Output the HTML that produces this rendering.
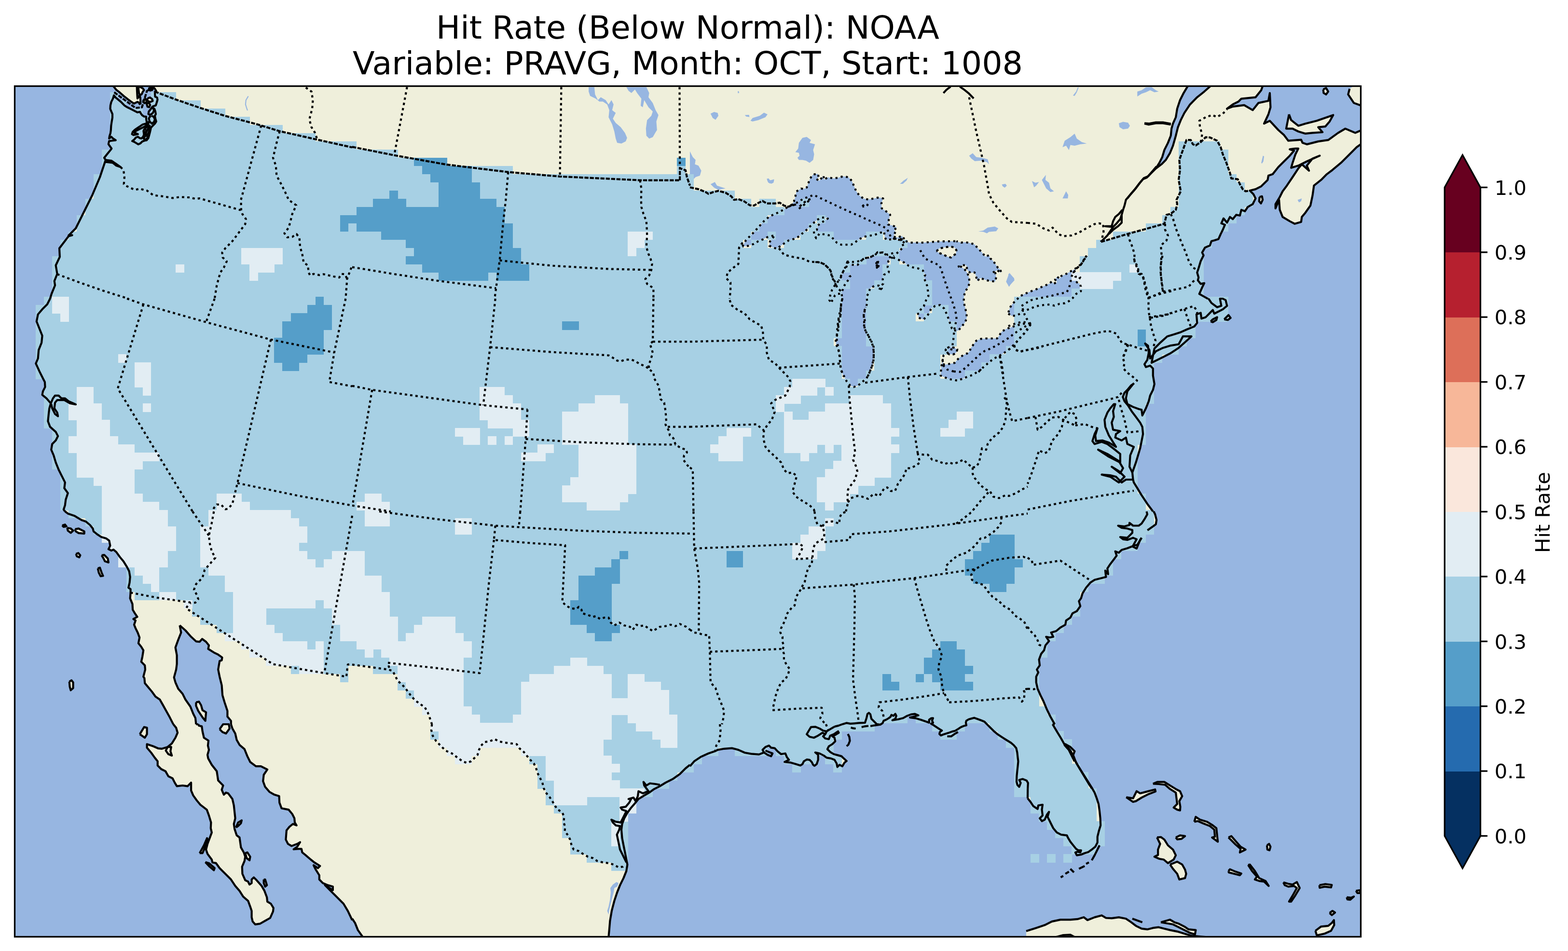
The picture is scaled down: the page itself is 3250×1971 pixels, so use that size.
<!DOCTYPE html>
<html lang="en">
<head>
<meta charset="utf-8">
<title>Hit Rate (Below Normal): NOAA</title>
<style>
html,body{margin:0;padding:0;background:#fff;}
body{width:3250px;height:1971px;overflow:hidden;}
svg{display:block;}
text{font-family:'DejaVu Sans', 'Liberation Sans', sans-serif;fill:#000;}
.coast{fill:none;stroke:#000;stroke-width:4.2;stroke-linejoin:round;stroke-linecap:butt;}
.bord{fill:none;stroke:#000;stroke-width:4.2;stroke-linejoin:round;stroke-dasharray:8.4 2.65;}
.st{fill:none;stroke:#000;stroke-width:4.2;stroke-linejoin:round;stroke-dasharray:4.9 6.15;}
</style>
</head>
<body>
<svg width="3250" height="1971" viewBox="0 0 3250 1971">
<rect width="3250" height="1971" fill="#fff"/>
<g font-size="66.67" text-anchor="middle">
<text x="1425.5" y="80.3">Hit Rate (Below Normal): NOAA</text>
<text x="1425.5" y="154">Variable: PRAVG, Month: OCT, Start: 1008</text>
</g>
<defs><clipPath id="axclip"><rect x="30.5" y="178.5" width="2790" height="1763"/></clipPath></defs>
<g clip-path="url(#axclip)">
<rect x="30.5" y="178.5" width="2790" height="1763" fill="#97b6e1"/>
<g fill="#efefdb" stroke="none">
<path d="M317.4 177.7L318.3 181.3L321 184L323.8 188.6L323.8 188.6L321 193.1L321.5 200.3L325.6 202.1L326.5 206.6L324.7 212.9L322.9 218.4L317.4 220.2L315.6 222.9L320.1 225.6L322 231L322.9 236.4L321 240L322 245.5L323.8 251.8L321 256.3L316.5 260.8L312.9 264.4L312 268.9L310.7 274.4L309.3 279.8L307.5 286.1L303.9 290.6L299.4 291.5L294.9 293.3L291.2 297L286.7 299.2L283.1 297L278.6 294.2L274.1 292.4L278.6 288.8L281.3 285.2L285.8 283.4L289.4 286.1L293 287L296.7 283.4L298.5 278.9L297.6 272.6L298.5 268.9L302.1 265.3L305.7 261.7L307.5 256.3L308.4 252.7L306.6 253.6L302.1 256.3L295.8 258.1L290.3 261.7L284.9 265.3L279.5 268.9L275 273.5L273.6 278L276.8 279.8L281.3 278.9L285.8 278L281.3 276.2L278.6 275.3L281.3 271.7L286.7 268.9L292.1 266.2L297.6 263.5L302.1 260.8L304.8 257.2L303.9 251.8L303 246.4L303 241.8L298.5 241.4L294.9 239.1L292.1 235.5L290.3 231.9L284.9 232.8L279.5 230.1L274.1 227.4L268.7 224.7L263.2 222L257.8 218.4L254.2 214.7L250.6 211.1L245.2 206.6L239.7 202.1L236.1 197.6L234.3 203.9L230.7 211.1L228.9 218.4L228.5 225.6L230.7 231L233 236.4L233 243.7L231.6 251.8L230.3 260.8L229.8 269.9L228.9 276.2L227.1 281.6L226.2 287L230.7 283.4L234.3 287L239.7 290.6L232.5 291.5L226.2 292.4L224.8 298.8L228 303.3L231.2 307.8L229.8 310L221.9 319.7L216 327.1L219 331.5L217.5 336L207.1 367L190.9 405.3L174.7 437.8L157 473.2L142.2 488L149.6 487.4L142.2 489.5L123 514.6L123.9 532.3L115.6 550L118.6 567.7L112.7 582.5L114.1 591.3L106.8 609.1L103.8 619.1L103.8 619L97.9 630.8L87.6 641.1L78.7 651.5L75.8 666.2L81.7 681L87.6 695.8L86.1 710.5L80.2 725.3L78.7 743L74.3 753.3L81.7 769.6L89 784.3L92.9 791.7L93.5 802.1L89 810.9L87.6 818.3L96.4 825.7L105.3 836L105.3 836L102.3 846.3L100.9 858.1L99.4 872.9L103.8 884.7L115.6 895.1L120.1 903.9L115.6 912.8L108.2 920.2L106.2 932L111.2 943.8L115.6 958.5L121.5 973.3L127.4 985.1L134.8 999.9L133.3 1011.7L140.7 1022L136.3 1035.3L134.8 1047.1L131.9 1056L134.8 1060.1L134.8 1060L140.7 1064.4L154 1068.9L168.8 1077.7L177.6 1080.7L186.5 1088L192.4 1095.4L193.9 1101.3L201.2 1107.2L210.1 1113.1L220.4 1116.1L226.3 1120.5L228.4 1130.9L224.9 1138.2L230.8 1141.2L235.2 1139.1L241.1 1144.1L248.5 1154.5L255.9 1163.3L263.2 1175.1L267.7 1184L269.7 1195.8L268.6 1207.6L266.2 1218L270.6 1220.9L270.6 1228.3L269.7 1240.1L274.5 1251.9L275.1 1263.7L279.5 1271.1L284.5 1278.5L276.5 1282.9L281 1285.9L278 1294.7L281 1302.1L285.4 1311L289.2 1321.3L286.9 1333.1L292.8 1340.5L297.2 1347.9L295.1 1361.2L292.8 1371.5L300.2 1378.9L301 1387.7L297.2 1402.5L299.3 1405.4L300.2 1415.8L307.5 1424.6L314.9 1433.5L322.3 1443.8L331.2 1449.7L337.1 1460.1L344.4 1473.3L351.8 1486.6L359.2 1501.1L359.2 1501L365.1 1508.4L368.1 1518.7L363.6 1529L356.2 1540.9L347.4 1548.2L335.6 1551.8L328.2 1551.2L317.9 1546.8L304.6 1542.3L304.6 1549.7L313.4 1560L320.8 1570.4L326.7 1577.8L326.7 1586.6L334.1 1594L343 1598.4L348.9 1608.8L357.7 1613.2L362.2 1622.1L366.6 1629.4L378.4 1628L388.7 1629.4L396.1 1622.1L396.1 1638.3L400.5 1648.6L407.9 1659L415.3 1667.8L428.6 1678.1L433 1690L437.4 1704.7L436.8 1716.5L438.9 1725.4L434.5 1737.2L430.1 1749L427.1 1760.8L430.1 1769.7L438.9 1781.5L440.4 1787.4L447.8 1788.9L455.2 1799.2L467 1811L478.8 1822.8L487.6 1836.1L496.5 1846.4L503.9 1858.2L514.2 1867.1L518.6 1878.9L521.6 1887.8L521.6 1901.1L523.7 1909.9L529 1915.8L539.3 1914.3L549.6 1908.4L560 1902.5L565.9 1889.2L566.8 1881.9L561.4 1873L554.1 1868.6L553.2 1859.7L548.2 1846.4L542.3 1836.1L531.9 1824.3L526 1818.4L521.6 1822.8L521.6 1830.2L517.2 1833.2L514.2 1827.2L508.3 1824.3L502.4 1811L501.8 1796.2L506.8 1784.4L508.3 1775.6L505.3 1766.7L499.4 1756.4L496.5 1735.7L490.6 1731.3L486.2 1718L484.7 1707.7L487.6 1695.9L484.7 1669.3L481.7 1656L472.9 1644.2L468.4 1642.7L464 1647.1L459.6 1636.8L462.5 1628L452.2 1617.6L449.3 1598.4L438.9 1585.1L431.5 1571.9L430.1 1564.5L433 1554.1L430.9 1545.3L432.1 1535L422.7 1529L419.7 1515.8L418.2 1505.4L412.3 1504L410.9 1501L406.4 1501.1L405 1488.1L400.5 1479.3L394.6 1464.5L384.3 1449.7L378.4 1437.9L369.5 1427.6L363.6 1414.3L360.7 1404L365.1 1387.7L366.6 1375.9L366.6 1358.2L363.6 1342L369.5 1325.7L375.4 1311L372.5 1296.2L372.5 1296.2L384.3 1306.5L396.1 1319.8L406.4 1329.3L413.8 1330.2L419.1 1324.2L427.1 1330.2L433 1337.5L431.5 1344.9L443.3 1352.3L452.2 1356.7L460.5 1362.6L459.6 1368.5L455.2 1370L452.2 1387.7L455.2 1402.5L459.6 1420.2L461.1 1440.9L465.5 1455.6L471.4 1473.3L471.4 1485.2L478.8 1494L478.8 1501.1L478.8 1501L481.7 1509.9L487.6 1520.2L490.6 1533.5L496.5 1543.8L506.8 1552.7L512.7 1567.4L518.6 1579.2L530.4 1588.1L540.8 1588.1L554.1 1594.9L546.7 1605.8L545.2 1619.1L549.6 1630.9L558.5 1641.2L568.8 1647.1L578.6 1650.1L579.2 1663.4L583.6 1675.2L598.3 1678.1L605.7 1687L610.2 1695.9L611 1704.7L614.6 1710.6L607.2 1707.7L599.8 1713.6L593.9 1721L592.4 1740.1L596.9 1749L604.3 1753.4L616.1 1749L622 1745.5L616.1 1754.9L608.7 1760.2L617.5 1759.3L624.9 1759.3L626.4 1766.7L633.8 1772.6L644.1 1781.5L651.5 1787.4L663.3 1794.8L658.9 1799.2L650 1793.3L654.4 1802.2L661.8 1814L661.8 1822.8L669.2 1830.2L679.5 1834.6L689.9 1837.6L689.9 1845L673.6 1834.6L684 1845L697.3 1858.2L712 1873L720.9 1887.8L730 1907L730 1904L735.9 1912.9L741.8 1927.6L752.1 1942.1L752.1 1961.5L1261.4 1961.5L1261.4 1942.1L1262.9 1926.2L1264.4 1908.4L1267.9 1887.8L1273.3 1867.1L1279.2 1849.4L1285.1 1834.6L1292.4 1819.9L1298.3 1805.1L1300.4 1791.8L1298.3 1781.5L1295.4 1766.7L1292.4 1752L1289.5 1737.2L1288 1719.5L1289.5 1707.7L1293.9 1695.9L1299.8 1685.5L1307.2 1675.2L1316.1 1664.9L1323.4 1656L1335.3 1648.6L1345.6 1642.7L1355.9 1635.3L1367.7 1629.4L1379.5 1622.1L1394.3 1614.7L1409.1 1604.3L1420.9 1592.5L1430 1585.1L1430 1588.1L1438.9 1577.8L1452.1 1568.9L1468.4 1561.5L1481.7 1557.1L1487.6 1554.1L1500.9 1551.8L1517.1 1550.6L1530.4 1554.1L1543.7 1560L1557 1562.4L1573.2 1563.6L1583.5 1559.5L1580.6 1554.1L1586.5 1548.2L1593.9 1545.3L1598.3 1549.7L1605.7 1550.6L1611.6 1557.1L1619 1563L1627.8 1561.5L1630.8 1568.9L1635.2 1574.8L1626.3 1579.2L1639.6 1580.7L1650 1583.7L1658.8 1586.6L1663.2 1583.7L1666.2 1577.8L1672.1 1574.2L1678 1574.8L1682.4 1579.2L1685.4 1585.1L1688.3 1587.2L1692.8 1583.7L1695.7 1574.8L1695.7 1564.5L1689.8 1559.5L1698.7 1561.5L1707.5 1566L1713.4 1570.4L1722.3 1571.9L1729.7 1574.8L1734.1 1582.2L1735.6 1589.6L1740 1585.1L1745.9 1588.1L1750.3 1580.7L1754.8 1577.2L1748.9 1571.9L1744.4 1567.4L1737.1 1565.4L1728.2 1563L1720.8 1558.6L1714.9 1552.7L1717.9 1546.8L1725.2 1542.3L1731.2 1536.4L1729.7 1529L1725.2 1526.1L1731.2 1523.1L1738.5 1518.7L1737.1 1515.8L1728.2 1521.7L1720.8 1524.6L1717.9 1532L1710.5 1530.5L1706.1 1526.1L1710.5 1521.7L1710.5 1521.7L1713.4 1515.8L1720.8 1511.3L1728.2 1506.9L1730 1505.9L1738.1 1503.9L1746.2 1500.9L1754.4 1498.4L1762.5 1499.9L1770.6 1499.3L1780.7 1498.4L1792.9 1497.8L1795.9 1488.7L1798 1479.6L1801 1477.5L1804.1 1480.6L1806.1 1489.7L1810.2 1493.8L1814.2 1497.8L1817.3 1500.9L1824.4 1501.9L1829.4 1498.8L1831.5 1493.8L1836.5 1491.7L1841.6 1488.7L1845.7 1485.7L1847.7 1481.6L1851.8 1483.6L1855.8 1479.6L1857.8 1483.6L1855.8 1489.7L1849.7 1492.8L1861.9 1490.7L1872 1488.3L1880.2 1483.6L1888.3 1480.6L1896.4 1479.6L1903.5 1482.6L1892.3 1485.7L1886.2 1487.1L1898.4 1488.7L1908.6 1491.7L1918.7 1495.2L1925.8 1497.8L1925.8 1491.7L1929.9 1488.7L1933.9 1488.3L1931.9 1493.8L1933.9 1497.8L1929.9 1499.9L1935 1502.9L1941 1507L1947.1 1511L1952.2 1514.1L1948.1 1517.1L1947.1 1521.2L1950.2 1524.2L1955.2 1522.2L1965.4 1519.1L1973.5 1516.1L1979.6 1514.7L1985.7 1511L1991.8 1507L1997.9 1504.5L2002.9 1503.3L2001.9 1497.8L2002.9 1493.8L2008 1490.7L2014.1 1489.1L2019.2 1487.7L2026.3 1490.3L2034.4 1493.2L2040.5 1495.8L2045.5 1500.9L2052.6 1508L2059.7 1515.1L2066.9 1521.2L2072.9 1525.2L2079 1529.3L2087.1 1534.4L2095.3 1539.4L2101.3 1544.5L2106.4 1550.6L2108.4 1559.7L2109.5 1569.9L2110.5 1578L2109.5 1588.1L2108.4 1598.3L2107.4 1608.4L2107 1620L2108.7 1626.7L2112.5 1630.7L2115.6 1622.6L2112.5 1616.5L2119.6 1614.5L2127.7 1617.6L2130.8 1622.6L2130.2 1634.8L2130 1654.5L2135.9 1661.9L2141.8 1670.8L2150.7 1676.7L2152.1 1669.3L2161 1667.8L2159.5 1678.1L2161 1690L2155.1 1695.9L2159.5 1701.8L2165.4 1698.8L2169.9 1688.5L2174.3 1682.6L2171.3 1692.9L2174.3 1698.8L2178.7 1707.7L2183.1 1716.5L2190.5 1725.4L2199.4 1729.8L2211.2 1731.3L2214.1 1737.2L2218.6 1744.6L2224.5 1752L2230.4 1759.3L2234.8 1762.3L2240.7 1762.3L2239.2 1766.7L2233.3 1765.2L2228.9 1766.7L2231.9 1772.6L2240.7 1771.2L2248.1 1768.2L2255.5 1766.1L2262.9 1760.8L2270.2 1754.9L2274.7 1746.1L2274.7 1734.2L2277.6 1722.4L2281.2 1710.6L2280.6 1695.9L2279.1 1681.1L2277 1666.3L2273.2 1654.5L2268.8 1642.7L2262.9 1632.4L2255.5 1620.6L2248.1 1608.8L2240.7 1597L2233.3 1585.1L2226 1571.9L2224.5 1564.5L2227.4 1557.1L2218.6 1548.2L2208.2 1542.3L2214.1 1552.7L2206.8 1543.8L2199.4 1530.5L2190.5 1515.8L2181.7 1501L2186.1 1501.1L2177.2 1485.2L2169.9 1470.4L2162.5 1452.7L2156.6 1440.9L2150.7 1427.6L2147.7 1414.3L2147.7 1402.5L2152.1 1393.6L2149.2 1387.7L2155.1 1378.9L2153.6 1367.1L2158 1355.2L2164 1347.9L2166.9 1337.5L2174.3 1328.7L2168.4 1319.8L2175.8 1321.3L2183.1 1319.8L2178.7 1311L2189 1308L2197.9 1300.6L2208.2 1294.7L2209.7 1285.9L2218.6 1280L2223 1271.1L2231.9 1266.7L2239.2 1256.3L2236.3 1246L2240.7 1240.1L2243.7 1229.8L2251.1 1218L2259.9 1207.6L2268.8 1201.7L2280.6 1198.8L2292.4 1195.8L2290.9 1182.5L2296.8 1189.9L2295.3 1178.1L2301.2 1169.2L2310.1 1157.4L2314.5 1151.5L2311.6 1142.7L2319 1145.6L2324.9 1139.7L2336.7 1136.2L2347 1132.3L2355.9 1136.8L2363.2 1119L2366.2 1114.6L2375.1 1101.3L2389.8 1091L2395.7 1086.6L2397.2 1077.7L2394.2 1065.9L2391.3 1060L2389.8 1060.1L2378 1044.2L2366.2 1026.4L2357.3 1011.7L2350 999.9L2348.5 994L2347 979.2L2354.4 958.5L2358.8 943.8L2363.2 929L2366.2 914.2L2369.1 899.5L2367.7 884.7L2363.2 875.9L2354.4 864.1L2345.5 852.2L2338.1 840.4L2330.8 831.6L2327.2 822.7L2330.8 813.9L2336.7 808L2344.1 799.1L2348.5 796.1L2336.7 810.9L2333.7 825.7L2336.7 837.5L2348.5 843.4L2360.3 847.8L2366.2 849.3L2367.7 861.1L2375.1 846.3L2381 831.6L2383.9 819.8L2389.8 808L2392.8 796.1L2389.8 778.4L2389.8 763.7L2383.9 757.8L2375.1 760.7L2372.1 754.8L2378 746L2381 731.2L2379.5 716.4L2373.6 712L2382.4 725.3L2383.9 743L2389.8 735.6L2395.7 728.2L2410.5 720.9L2425.2 716.4L2443 713.5L2451.8 697.2L2451.8 697.2L2469.5 697.2L2454.8 710.5L2443 720.9L2425.2 732.7L2410.5 740.1L2386.9 751.9L2386.9 751.9L2389.8 737.1L2392.8 722.3L2406.1 709.1L2419.3 697.2L2434.1 692.8L2447.4 688.4L2460.7 682.5L2475.4 676.6L2481.3 669.2L2479.9 651.5L2488.7 648.5L2490.2 660.3L2499.1 657.4L2506.4 650L2513.8 642.6L2516.8 650L2525.6 645.6L2534.5 641.1L2543.3 633.8L2540.4 622L2534.5 619L2528.6 619L2531.5 633.8L2522.7 636.7L2510.9 627.9L2505 619L2503.5 619.1L2496.1 615L2485.8 609.1L2491.7 595.8L2496.1 586.9L2488.7 588.4L2482.8 581L2484.3 575.1L2481.3 564.8L2484.3 555.9L2488.7 541.2L2494.6 529.3L2491.7 523.4L2497.6 513.1L2507.9 508.7L2510.9 499.8L2516.8 498.3L2525.6 495.4L2530.1 485.1L2534.5 476.2L2538.9 465.9L2531.5 462.9L2536 452.6L2543.3 461.4L2549.3 449.6L2555.2 454.1L2562.5 445.2L2569.9 446.7L2572.9 434.9L2580.3 437.8L2586.2 429L2596.5 423.1L2602.4 411.2L2598 402.4L2590.6 395L2590.6 395L2602.4 392.1L2614.2 386.1L2627.5 372.9L2629 364L2637.8 361.1L2649.6 346.3L2661.4 334.5L2673.3 322.7L2682.1 312.3L2673.3 309.4L2685.1 307.9L2691 307.9L2685.1 319.7L2679.2 337.4L2676.2 347.8L2691 343.3L2708.7 334.5L2735.3 322.7L2720.5 328.6L2708.7 343.3L2713.1 353.7L2698.3 340.4L2691 349.2L2679.2 367L2667.3 384.7L2658.5 396.5L2652.6 408.3L2643.7 423.1L2643.7 431.9L2651.1 414.2L2652.6 434.9L2658.5 449.6L2673.3 458.5L2683.6 463.8L2696.9 460L2698.3 449.6L2705.7 440.8L2716.1 426L2720.5 405.3L2723.4 384.7L2738.2 372.9L2750 361.1L2761.8 352.2L2779.5 337.4L2797.3 319.7L2812 305L2822.4 297.6L2840.5 297.6L2840.5 158.5L317.4 158.5Z"/>
<path d="M234.3 177.7L240.7 185.8L248.8 192.2L256.9 199.4L265 205.7L272.3 211.1L277.7 214.7L281.3 212.9L284.9 211.1L288.1 212.9L289.4 215.7L291.2 214.7L291.2 209.3L290.8 202.1L289.4 197.6L286.7 202.1L284.9 203.9L284.5 197.6L284 188.6L283.6 177.7Z"/>
<path d="M2610.7 408.3L2615.7 406.8L2617.2 414.2L2613.6 421.6L2609.8 417.1Z"/>
<path d="M2509.4 666.2L2513.8 661.8L2522.7 657.4L2521.2 663.3L2513.8 667.7Z"/>
<path d="M2537.4 661.8L2546.3 653L2550.7 658.9L2544.8 663.3Z"/>
<path d="M128.9 1088.9L134.8 1087.2L137.8 1091L131.9 1091.9Z"/>
<path d="M139.2 1094L146.6 1095.4L151.6 1099.9L146.6 1104.3L140.7 1099.9Z"/>
<path d="M155.5 1096.9L162.9 1095.4L174.7 1101.3L174.7 1105.8L162.9 1104.9L157 1101.3Z"/>
<path d="M210.7 1150.9L216 1150.1L223.4 1157.4L224.9 1165.7L217.5 1163.3L214.5 1157.4Z"/>
<path d="M157.5 1148L162.3 1146.2L166.4 1150.9L164.3 1155.1L159.3 1153Z"/>
<path d="M202.7 1178.1L207.1 1176.6L210.7 1187L213.6 1193.5L208.6 1194.3L204.8 1187Z"/>
<path d="M143.7 1412.8L148.1 1409.9L151.6 1414.3L151.6 1426.1L146.6 1430.5L144.6 1423.2Z"/>
<path d="M289.8 1521.7L298.7 1506.9L304.6 1508.4L304.6 1521.7L300.2 1529Z"/>
<path d="M489.1 1715.1L493.5 1704.7L500.9 1700.3L499.4 1706.2L493.5 1712.1Z"/>
<path d="M508.3 1768.2L512.7 1766.7L518.6 1775.6L517.2 1783L511.3 1778.5Z"/>
<path d="M546.7 1822.8L549.6 1822.8L553.2 1834.6L549.6 1837.6L546.7 1830.2Z"/>
<path d="M413.8 1768.2L422.7 1752L429.2 1737.2L430.9 1741.6L425.6 1754.9L419.7 1768.2Z"/>
<path d="M425.6 1786.8L433 1788.9L444.8 1799.2L443.3 1803.6L434.5 1796.2Z"/>
<path d="M455.2 1511.3L462.5 1501L474.3 1501L475.8 1509.9L468.4 1520.2L461.1 1517.2Z"/>
<path d="M2334.3 1652.2L2348.5 1654.5L2355.9 1639.8L2363.2 1644.2L2378 1640.4L2394.2 1636.2L2395.1 1640.4L2381 1645.7L2366.2 1653.1L2354.4 1660.4L2348.5 1661.9Z"/>
<path d="M2389.8 1624.4L2398.7 1620.6L2413.4 1620.6L2425.2 1628L2437.1 1635.3L2445.9 1639.8L2450.3 1650.1L2444.4 1660.4L2446.5 1672.2L2445.9 1679.6L2440 1678.1L2432.6 1673.7L2440 1666.3L2438.5 1654.5L2437.1 1642.7L2425.2 1635.3L2414.9 1626.5L2401.6 1625Z"/>
<path d="M2398.1 1735.7L2406.1 1734.8L2413.4 1740.1L2420.8 1752L2431.2 1760.8L2437.1 1772.6L2432.6 1781.5L2420.8 1788.9L2412 1781.5L2403.1 1780L2392.8 1775.6L2400.2 1772L2400.2 1760.8L2404.6 1749Z"/>
<path d="M2425.2 1791.8L2440 1785.9L2450.3 1791.8L2456.2 1802.2L2458.6 1811L2456.2 1819.9L2444.4 1822.8L2440 1811L2431.2 1800.7Z"/>
<path d="M2437.1 1735.7L2445.9 1731.3L2456.2 1732.8L2448.9 1738.7L2440 1739.6Z"/>
<path d="M2475.4 1703.2L2478.4 1692.9L2487.2 1698.8L2502 1703.2L2513.8 1710.6L2521.2 1716.5L2522.7 1731.3L2524.2 1744.6L2512.3 1735.7L2518.2 1734.2L2516.8 1719.5L2507.9 1712.1L2493.2 1706.2L2482.8 1701.8Z"/>
<path d="M2546.3 1735.7L2552.2 1732.8L2561.1 1743.1L2571.4 1754.9L2581.7 1760.8L2569.9 1766.7L2571.4 1759.3L2561.1 1750.5L2550.7 1740.1Z"/>
<path d="M2626 1752L2630.4 1749L2633.4 1754.9L2631.3 1762.3L2626.9 1760.8Z"/>
<path d="M2546.3 1805.1L2549.3 1801.6L2561.1 1806.6L2572.9 1810.4L2569.9 1814L2558.1 1811L2546.9 1808.1Z"/>
<path d="M2587 1792.7L2590.6 1791.8L2600.9 1805.1L2609.8 1819.9L2623.1 1825.8L2629.6 1836.1L2620.1 1827.2L2609.8 1825.8L2600.9 1822.8L2605.3 1816.9L2595 1805.1Z"/>
<path d="M2660 1828.7L2670.3 1831.7L2679.2 1833.2L2688 1828.1L2693.9 1840.5L2685.1 1855.3L2676.2 1868.6L2671.8 1868.6L2680.6 1853.8L2688 1840.5L2682.1 1836.1L2670.3 1837.6L2662.9 1834.6Z"/>
<path d="M2734.7 1834.6L2747.1 1832.3L2760.4 1834L2758.9 1839.1L2745.6 1837.6L2735.3 1839.9Z"/>
<path d="M2726.4 1929.1L2738.2 1920.3L2753 1918.8L2760.4 1912.9L2764.8 1907L2765.4 1917.3L2758.9 1929.1L2745.6 1935L2729.4 1938.6Z"/>
<path d="M2755.9 1892.2L2761.8 1887.8L2767.1 1891.3L2760.4 1896.6Z"/>
<path d="M2791.4 1859.7L2800.2 1860.6L2806.1 1858.2L2798.7 1864.7L2792.8 1864.2Z"/>
<path d="M2810.5 1846.4L2817.9 1845L2820.9 1850.9L2813.5 1850.9Z"/>
<path d="M2406.1 1911.4L2425.2 1906.1L2434.1 1911.4L2443 1914.3L2454.8 1920.3L2463.6 1926.2L2478.4 1927.6L2476.9 1936.5L2466.6 1933.5L2454.8 1927.6L2443 1921.7L2431.2 1915.8L2419.3 1913.8Z"/>
<path d="M2127 1929.7L2147.7 1923.2L2165.4 1917.3L2180.2 1909.9L2197.9 1906.1L2218.6 1906.1L2233.3 1904.9L2246.6 1901.1L2254 1907L2268.8 1901.1L2283.5 1897.2L2292.4 1902.5L2304.2 1903.1L2319 1901.1L2333.7 1904L2342.6 1909.9L2354.4 1918.8L2366.2 1924.7L2378 1926.2L2389.8 1923.2L2401.6 1921.7L2413.4 1924.7L2425.2 1927.6L2440 1930.6L2454.8 1935L2469.5 1939.4L2499.1 1942.1L2499.1 1946.8L2127 1946.8Z"/>
</g>
<g fill="#97b6e1" stroke="none">
<path d="M1851.2 524.4L1839.9 528.1L1830.6 523.4L1819.3 522.5L1811.8 529L1802.5 533.7L1772.5 549.5L1763.9 548.4L1756.4 542.5L1763.9 571.4L1760.7 573.6L1758.6 580L1753.2 586.4L1747.8 596L1744.6 608.9L1745.7 619.6L1743.6 629.3L1742.5 641L1741.4 659.2L1737.1 680L1743.4 629.3L1742.5 640.6L1743.4 649.9L1738.7 660.2L1736.9 671.5L1737.8 681.8L1735.9 692.1L1732.2 703.3L1733.1 713.6L1736.9 723L1740.6 734.3L1740.6 745.5L1741.6 753L1742.5 763.3L1745.3 771.7L1748.1 780L1743 636.7L1738.5 657.4L1735.6 678L1734.1 701.7L1737.1 719.4L1740 737.1L1741.5 754.8L1743 766.6L1748.9 778.4L1754.8 790.2L1762.2 799.1L1769.5 802.1L1778.4 799.1L1787.2 791.7L1796.1 784.3L1802 772.5L1807.9 757.8L1810.9 740.1L1810.9 719.4L1805 704.6L1796.1 689.9L1791.7 678L1790.2 651.5L1794.6 636.7L1798.7 780L1802.5 770.8L1807.1 760.5L1810 751.1L1810.9 739.9L1810.9 728.6L1809.6 717.4L1805.3 707.1L1800.6 696.8L1795 687.4L1790.3 677.1L1793.1 666.8L1790.3 655.5L1790.3 646.2L1795 636.8L1797.8 626.5L1795.9 614.3L1800.6 607.8L1803.4 597.5L1811.8 592.8L1821.2 591.8L1827.8 597.5L1822.1 603.1L1824.9 593.7L1830.6 588.1L1829.6 578.7L1832.4 569.3L1841.8 564.7L1842.8 560L1839.9 554.3L1839.9 546.9L1841.8 540.3L1847.4 534.7L1851.2 533.7Z"/>
<path d="M1851.2 533.7L1862.4 538.4L1873.7 544L1883 550.6L1892.4 554.3L1902.7 556.2L1913 560.9L1917.7 570.3L1914.9 574L1917.7 582.5L1921.5 591.8L1923.3 603.1L1924.3 613.4L1919.6 621.8L1915.8 631.2L1914.9 634.9L1910.2 639.6L1902.7 648.1L1903.7 658.4L1914 662.1L1921.5 655.5L1926.1 648.1L1929.9 639.6L1938.3 634L1948.6 632.1L1957.1 639.6L1961.8 649.9L1965.5 659.3L1969.3 670.5L1973 680.8L1976.7 684.6L1977.7 684.6L1986.1 685.5L1992.7 677.1L2000.2 668.7L2003.9 658.4L2003 648.1L2000.2 636.8L1997.4 625.6L1998.3 612.4L2001.1 603.1L2006.7 595.6L2009.5 586.2L2008.6 575L2004.9 565.6L1999.2 558.1L1991.7 552.5L1984.2 553.4L1994.6 549.7L2003 549.7L2004.9 560L2011.4 565.6L2019.9 564.7L2022.7 571.2L2025.5 582.5L2032 575.9L2040.5 579.6L2051.7 582.5L2063 583.4L2064.8 574L2063 565.6L2056.4 565.6L2066.7 560L2075.1 565.6L2073.3 558.1L2068.6 555.3L2063 546.9L2057.3 539.4L2052.6 535.6L2049.8 529L2042.3 531.9L2034.8 522.5L2027.3 515L2019.9 506.6L2010.5 503.7L2001.1 501.9L1991.7 502.8L1982.4 500L1982.1 499.8L1946.7 500.4L1914.2 502.8L1884.7 502.8L1867 495.4L1872.9 511.6L1864 520.5L1852.2 530.8Z"/>
<path d="M1954.3 754.9L1959.9 755.8L1969.3 753.9L1978.6 752.1L1982.4 747.4L1988 741.8L1996.4 736.1L2004.9 732.4L2009.5 728.6L2012.4 721.1L2018 713.6L2023.6 706.1L2033 702.4L2044.2 701.5L2055.5 701.5L2066.7 701.5L2070.4 696.8L2076.1 687.4L2085.4 681.8L2096.7 678L2107.9 674.3L2119.2 671.5L2130.4 669.6L2135.1 670.5L2136 672.4L2132.3 679.9L2124.8 689.3L2117.3 696.8L2109.8 706.1L2100.4 715.5L2092.9 723L2085.4 728.6L2070.4 738L2059.2 743.6L2049.8 751.1L2036.7 762.4L2027.3 771.7L2032.3 766.6L2016.1 777L1999.8 782.9L1985.1 788.8L1967.3 785.8L1949.6 778.4L1951.1 760.7L1955.5 737.1Z"/>
<path d="M2251.9 530L2247.6 537.2L2243.2 544.5L2237.4 550.2L2231.7 554.6L2225.9 558.9L2220.1 561.8L2212.9 566.1L2207.1 569L2199.9 571.9L2196.2 577.7L2191.2 573.4L2186.8 579.1L2191.2 584.9L2184 587.8L2179.6 583.5L2175.3 587.8L2165.2 592.2L2155 596.5L2144.9 600.8L2134.8 604.4L2124.7 608.8L2114.6 613.8L2105.9 622.5L2097.2 631.2L2092.2 639.9L2090 648.5L2090 650L2095.8 654.3L2105.9 654.3L2114.6 650L2118.9 644.2L2123.2 644.2L2133.4 640.6L2143.5 636.2L2153.6 633.4L2165.2 631.9L2175.3 631.2L2185.4 633.4L2196.2 629.7L2207.1 628.3L2215.8 624L2223 618.2L2230.9 608.8L2240.3 603.7L2240.3 593.6L2237.4 587.8L2231.7 584.9L2236 579.1L2238.9 574.8L2228.8 573.4L2225.2 564.7L2232.4 555.3L2240.3 548.8L2246.1 538.7L2252.6 530Z"/>
<path d="M1220.1 180.4L1231.9 180.4L1233.4 195.7L1239.3 207.5L1245.2 201.6L1255.5 207.5L1261.4 216.4L1267.3 207.5L1271.8 216.4L1268.8 228.2L1276.2 234.1L1270.3 245.9L1276.2 254.8L1286.5 263.6L1295.4 275.4L1299.8 285.8L1296.9 293.1L1288 297.6L1279.2 296.1L1276.2 287.2L1273.3 272.5L1268.8 257.7L1261.4 243L1262.9 228.2L1258.5 216.4L1249.6 210.5L1242.3 210.5L1234.9 204.6L1223.1 198.7L1220.1 189.8Z"/>
<path d="M1298.3 180.4L1339.7 180.4L1345.6 192.8L1344.1 201.6L1353 213.4L1358.9 228.2L1364.8 238.5L1360.4 251.8L1361.8 269.5L1358.9 274L1353 284.3L1345.6 287.2L1339.7 281.3L1338.8 266.6L1341.2 248.9L1350 240L1353 231.1L1344.1 222.3L1335.3 207.5L1332.3 222.3L1327.9 219.3L1329.4 204.6L1320.5 192.8L1316.1 185.4L1308.7 192.8L1302.8 188.3Z"/>
<path d="M1472.8 235.6L1480.2 232L1487.6 234.1L1489 240L1483.1 248.3L1477.2 244.4Z"/>
<path d="M1543.7 238.5L1552.5 237.9L1553.4 242.4L1546.6 241.5Z"/>
<path d="M1555.5 250.3L1559.9 244.4L1574.7 240L1583.5 233.5L1590.9 237L1586.5 243L1571.7 248.9L1559.9 251.8Z"/>
<path d="M1655.9 296.1L1663.2 285.8L1672.1 283.7L1681 290.2L1678 296.1L1689.2 299.1L1685.4 310.9L1687.5 319.7L1685.4 331.5L1678 337.4L1670.6 333L1663.2 331.5L1655.9 331.5L1652.9 327.1L1657.3 322.7L1655.9 316.8L1648.5 315.3L1654.4 307.9Z"/>
<path d="M1430 313.8L1435.9 325.6L1441.8 331.5L1440.3 340.4L1447.7 343.3L1453.6 353.7L1450.7 364L1441.8 367L1435.9 372.9L1430 375.8Z"/>
<path d="M1589.4 370.5L1595.3 374.3L1604.2 371.4L1602.7 378.8L1595.3 380.2L1590.9 375.8Z"/>
<path d="M1472.8 381.7L1481.7 377.3L1486.1 384.7L1503.8 390.6L1489 393.5L1480.2 389.1Z"/>
<path d="M1865.5 381.1L1872.9 374.3L1881.7 368.4L1878.8 374.3L1871.4 381.1Z"/>
<path d="M2008.7 322.7L2016.1 317.4L2023.4 325.6L2035.3 327.1L2047.1 330.1L2050 340.4L2045.6 336L2032.3 333L2020.5 333.9L2013.1 328.6Z"/>
<path d="M2076.6 382.3L2084 381.1L2086.9 384.7L2082.5 389.1L2078.1 386.1Z"/>
<path d="M2027.9 479.7L2038.2 477.7L2047.1 471.8L2061.8 469.4L2069.2 473.2L2064.8 479.2L2050 480.6L2045.6 483.6L2038.2 480.6Z"/>
<path d="M2092.8 566.2L2101.7 576.6L2102.6 581L2094.3 589.9L2091.4 594.3L2085.4 584L2089.9 576.6Z"/>
<path d="M1528.9 189.8L1531 188.6L1532.2 192.2L1529.8 193.4Z"/>
<path d="M1539 510.7L1546.3 497.6L1555.1 488.8L1562.4 481.5L1569.7 473.5L1577 465.4L1584.3 457.4L1593.1 450.1L1602.6 445L1612.8 440.6L1622.3 435.5L1631.8 429.6L1639.8 425.2L1645.7 417.2L1648.6 407L1650.8 396.8L1660.3 390.9L1666.1 391.6L1672 388.7L1675.6 379.2L1679.3 369.7L1685.1 361.7L1695.3 360.2L1696.8 367.5L1692.4 371.2L1698.3 374.8L1707 363.9L1707.8 372.6L1715.8 367.5L1727.5 369.7L1737.7 368.3L1747.9 365.3L1758.9 367.5L1765.5 374.8L1769.9 385.1L1774.2 395.3L1780.8 404.8L1789.6 411.4L1799.8 413.6L1810.8 411.4L1821.7 409.2L1830.5 411.4L1826.8 421.6L1827.6 431.8L1836.3 437.7L1845.1 445L1842.2 455.2L1840.7 465.4L1850.2 467.6L1859 471.3L1853.1 477.1L1856.1 480L1851.7 490.3L1860.4 492.5L1869.2 488.8L1875.1 496.1L1856.1 494.9L1847.3 496.1L1836.3 496.8L1833.4 488.8L1832.7 480L1822.5 483L1811.5 487.3L1800.5 488.8L1790.3 491L1780.1 496.1L1772 502.7L1764 507.1L1753.8 507.1L1743.6 507.1L1734.8 503.4L1728.2 496.1L1720.2 488.1L1709.9 485.9L1698.3 484.4L1691.7 493.9L1688 486.6L1686.6 478.6L1693.1 476.4L1695.3 466.9L1705.6 459.6L1715.8 453L1712.9 450.8L1703.4 450.8L1693.1 455.9L1685.1 463.2L1678.5 469.8L1671.2 477.1L1663.2 483.7L1654.4 491L1644.9 495.4L1634.7 498.3L1625.9 504.1L1616.4 510.7L1610.6 515.8L1602.6 512.9L1594.5 509.3L1596 500.5L1601.1 493.9L1606.2 487.3L1590.1 491.7L1581.4 496.1L1571.9 499.8L1562.4 505.6L1551.4 509.3L1541.9 510.7Z"/>
<path d="M1589.4 370.5L1593.1 369.7L1596 373.4L1601.8 374.1L1604.7 371.9L1603.3 378.5L1598.9 380.7L1592.3 378.5L1590.9 374.1Z"/>
<path d="M2462.2 178L2453.3 192.8L2445.9 207.5L2440 225.2L2437.1 243L2431.2 256.2L2428.2 266.6L2426.7 281.3L2420.8 296.1L2413.4 310.9L2409 325.6L2403.1 337.4L2395.7 349.2L2407.5 340.4L2416.4 331.5L2425.2 316.8L2431.2 302L2437.1 281.3L2441.5 263.6L2447.4 248.9L2454.8 234.1L2466.6 216.4L2481.3 201.6L2496.1 189.8L2509.4 178Z"/>
<path d="M2617.2 178L2614.2 186.9L2602.4 201.6L2572.9 204.6L2567 210.5L2555.2 216.4L2543.3 225.2L2555.2 220.8L2578.8 217.9L2596.5 228.2L2608.3 213.4L2629 209L2631.9 192.8L2633.4 222.3L2629 237L2620.1 256.2L2631.9 250.3L2649.6 269.5L2661.4 279.9L2670.3 291.7L2696.9 289.6L2699.8 296.1L2708.7 299.1L2732.3 293.1L2753 290.2L2773.6 275.4L2788.4 266.6L2809.1 275.4L2822.4 269.5L2822.4 219.3L2806.1 213.4L2794.3 195.7L2797.3 183.9L2806.1 178Z"/>
<path d="M2319 255.4L2327.8 252.4L2338.1 254.2L2342 260.7L2338.1 266.6L2327.8 268.1L2320.4 263.6Z"/>
<path d="M2202.3 305L2206.8 291.7L2218.6 284.3L2227.4 276.9L2231.9 287.2L2242.2 294.6L2252.5 297.6L2239.2 299.1L2227.4 302L2218.6 300.5L2215.6 310.9L2209.7 302Z"/>
<path d="M2138.9 375.2L2146.2 378.8L2153.6 377.3L2147.7 384.7L2143.3 388.2L2141.2 381.7Z"/>
<path d="M2159.5 372.9L2167.8 362.5L2166.9 372.9L2174.3 378.8L2177.2 390.6L2184.6 396.5L2177.2 398L2168.4 390.6L2164 381.7Z"/>
<path d="M2202.3 411.2L2209.7 396.5L2214.1 403.9L2213.3 411.2Z"/>
<path d="M2357.3 189.8L2366.2 186.9L2375.1 181L2386.9 180.4L2395.7 186.9L2401.6 189.8L2392.8 191.3L2383.9 186.9L2375.1 191.3L2366.2 194.2L2357.3 200.1Z"/>
<path d="M2223.9 198.1L2230.4 189.8L2233.9 181L2235.7 181.5L2231.9 191.3L2227.4 198.7Z"/>
<path d="M2614.2 337.4L2617.7 322.7L2620.1 324.1L2618.6 334.5L2615.7 338.9Z"/>
<path d="M2689.5 414.2L2693.9 412.7L2698.3 411.2L2696.9 417.1L2692.4 419.5Z"/>
<path d="M106.2 836.9L109.7 825.7L114.1 819.8L121.5 819.8L127.4 825.7L134.8 825.7L142.2 831.6L157 838.1L145.1 836L133.3 829.2L118.6 829.2L114.1 834.5L112.7 846.3L118.6 855.2L120.1 862.6L114.1 858.1L108.2 846.3Z"/>
<path d="M1277.7 1828.1L1282.1 1830.2L1279.2 1837.6L1273.3 1840.5L1271.8 1849.4L1268.8 1861.2L1265.9 1873L1262.9 1884.8L1261.4 1895.2L1258.5 1887.8L1261.4 1878.9L1264.4 1864.2L1265.9 1849.4L1265 1840.5L1270.3 1833.2Z"/>
<path d="M1963.6 721.1L1969.3 718.3L1978.6 721.1L1984.2 724L1982.4 730.5L1976.7 734.3L1967.4 734.3L1961.8 730.5L1959.9 724.9Z"/>
<path d="M2085.4 583.4L2092 565.6L2096.7 572.2L2102.3 578.7L2096.7 585.3L2092 593.7L2090.1 588.1Z"/>
<path d="M1756.4 542.5L1753.2 552.1L1747.8 561.8L1743.6 573.6L1738.2 582.1L1730.7 590.7L1724.3 601.4L1721.1 611L1718.9 621.8L1723.2 628.2L1725.3 621.8L1730.7 612.1L1736.1 608.9L1744.6 608.9L1747.8 596L1753.2 586.4L1758.6 580L1760.7 573.6L1763.9 571.4Z"/>
<path d="M2090 567.6L2094.3 571.9L2101.6 576.3L2102.3 580.6L2097.2 584.9L2092.9 589.3L2090 593.6Z"/>
</g>
<g fill="#efefdb" stroke="none">
<path d="M286.7 180.4L290.3 180L295.8 183.1L298.5 186.7L295.8 190.4L293.9 194.9L290.3 197.6L288.1 193.1L287.2 185.8Z"/>
<path d="M297.6 206.6L301.2 204.8L303.9 208.4L303 212.9L299.4 213.8L296.7 211.1Z"/>
<path d="M305.7 203.9L311.1 202.1L315.6 205.7L316.5 209.3L312 211.1L307.5 210.2L304.8 206.6Z"/>
<path d="M303.9 214.7L308.4 212.9L311.1 217.5L309.3 222L305.7 221.1Z"/>
<path d="M309.3 181.3L313.8 180.9L316.5 183.1L314.7 186.7L311.1 187.6L308.9 184.9Z"/>
<path d="M2671.8 237L2676.2 248.9L2691 260.7L2705.7 256.2L2729.4 250.3L2763.3 238.5L2755.9 251.8L2747.1 262.1L2732.3 263.6L2741.2 274L2720.5 275.4L2705.7 276.9L2691 272.5L2679.2 266.6L2665.9 266.6L2668.8 251.8Z"/>
<path d="M2742.6 185.4L2748.5 182.4L2753 189.8L2748.5 195.7L2743.5 192.8Z"/>
<path d="M406.4 1455.6L412.3 1454.2L416.8 1461.5L419.7 1471.9L427.1 1476.3L425.6 1494L419.7 1486.6L410.9 1473.3L406.4 1463Z"/>
<path d="M1941.1 520.6L1946.8 515L1959.9 512.2L1971.1 511.2L1978.6 513.1L1982.4 518.7L1981.4 526.2L1976.7 529L1971.1 533.7L1963.6 531.9L1954.3 527.2L1946.8 524.4Z"/>
</g>
<g fill="none" stroke="#97b6e1" stroke-linecap="round" stroke-linejoin="round">
<path stroke-width="2.2" d="M514.2 200.1L509.8 207.5L508.9 216.4L510.7 222.3L512.7 228.2"/>
</g>
<g shape-rendering="crispEdges" stroke="none">
<path fill="#a7d0e4" d="M227.62 190.92H245.26V208.50H227.62ZM312.82 190.92H364.54V208.50H312.82ZM227.62 207.90H262.30V225.48H227.62ZM312.82 207.90H415.66V225.48H312.82ZM227.62 224.88H296.38V242.46H227.62ZM312.82 224.88H466.78V242.46H312.82ZM227.62 241.86H517.90V259.44H227.62ZM227.62 258.84H586.06V276.42H227.62ZM227.62 275.82H654.22V293.40H227.62ZM227.62 292.80H739.42V310.38H227.62ZM2442.82 292.80H2528.62V310.38H2442.82ZM210.58 309.78H824.62V327.36H210.58ZM2442.82 309.78H2545.66V327.36H2442.82ZM210.58 326.76H858.70V344.34H210.58ZM2442.82 326.76H2545.66V344.34H2442.82ZM210.58 343.74H875.74V361.32H210.58ZM977.38 343.74H1063.18V361.32H977.38ZM1403.38 343.74H1421.02V361.32H1403.38ZM2442.82 343.74H2545.66V361.32H2442.82ZM193.54 360.72H892.78V378.30H193.54ZM977.38 360.72H1438.06V378.30H977.38ZM2442.82 360.72H2562.70V378.30H2442.82ZM193.54 377.70H909.82V395.28H193.54ZM994.42 377.70H1438.06V395.28H994.42ZM2442.82 377.70H2579.74V395.28H2442.82ZM193.54 394.68H807.58V412.26H193.54ZM824.02 394.68H909.82V412.26H824.02ZM994.42 394.68H1523.26V412.26H994.42ZM2442.82 394.68H2596.78V412.26H2442.82ZM176.50 411.66H773.50V429.24H176.50ZM841.06 411.66H909.82V429.24H841.06ZM1028.50 411.66H1557.34V429.24H1028.50ZM1573.78 411.66H1608.46V429.24H1573.78ZM1658.98 411.66H1676.62V429.24H1658.98ZM2442.82 411.66H2596.78V429.24H2442.82ZM176.50 428.64H739.42V446.22H176.50ZM1045.54 428.64H1625.50V446.22H1045.54ZM2425.78 428.64H2579.74V446.22H2425.78ZM159.46 445.62H705.34V463.20H159.46ZM1045.54 445.62H1591.42V463.20H1045.54ZM1693.06 445.62H1710.70V463.20H1693.06ZM2408.74 445.62H2562.70V463.20H2408.74ZM159.46 462.60H705.34V480.18H159.46ZM721.78 462.60H739.42V480.18H721.78ZM1062.58 462.60H1574.38V480.18H1062.58ZM1676.02 462.60H1693.66V480.18H1676.02ZM2374.66 462.60H2545.66V480.18H2374.66ZM142.42 479.58H790.54V497.16H142.42ZM1062.58 479.58H1301.74V497.16H1062.58ZM1352.26 479.58H1557.34V497.16H1352.26ZM1590.82 479.58H1608.46V497.16H1590.82ZM1658.98 479.58H1727.74V497.16H1658.98ZM1795.30 479.58H1829.98V497.16H1795.30ZM2306.50 479.58H2528.62V497.16H2306.50ZM125.38 496.56H841.66V514.14H125.38ZM1062.58 496.56H1301.74V514.14H1062.58ZM1335.22 496.56H1540.30V514.14H1335.22ZM1556.74 496.56H1591.42V514.14H1556.74ZM1624.90 496.56H1881.10V514.14H1624.90ZM2272.42 496.56H2511.58V514.14H2272.42ZM125.38 513.54H500.86V531.12H125.38ZM585.46 513.54H858.70V531.12H585.46ZM1079.62 513.54H1301.74V531.12H1079.62ZM1318.18 513.54H1864.06V531.12H1318.18ZM2255.38 513.54H2494.54V531.12H2255.38ZM108.34 530.52H500.86V548.10H108.34ZM585.46 530.52H841.66V548.10H585.46ZM1079.62 530.52H1795.90V548.10H1079.62ZM1846.42 530.52H1864.06V548.10H1846.42ZM2238.34 530.52H2494.54V548.10H2238.34ZM108.34 547.50H364.54V565.08H108.34ZM380.98 547.50H517.90V565.08H380.98ZM568.42 547.50H875.74V565.08H568.42ZM1096.66 547.50H1761.82V565.08H1096.66ZM1829.38 547.50H1915.18V565.08H1829.38ZM2238.34 547.50H2341.18V565.08H2238.34ZM2357.62 547.50H2494.54V565.08H2357.62ZM108.34 564.48H517.90V582.06H108.34ZM534.34 564.48H909.82V582.06H534.34ZM1011.46 564.48H1029.10V582.06H1011.46ZM1096.66 564.48H1744.78V582.06H1096.66ZM1829.38 564.48H1915.18V582.06H1829.38ZM2323.54 564.48H2494.54V582.06H2323.54ZM108.34 581.46H1761.82V599.04H108.34ZM1812.34 581.46H1932.22V599.04H1812.34ZM2306.50 581.46H2494.54V599.04H2306.50ZM108.34 598.44H1744.78V616.02H108.34ZM1795.30 598.44H1932.22V616.02H1795.30ZM2221.30 598.44H2494.54V616.02H2221.30ZM91.30 615.42H108.94V633.00H91.30ZM142.42 615.42H654.22V633.00H142.42ZM670.66 615.42H1744.78V633.00H670.66ZM1795.30 615.42H1932.22V633.00H1795.30ZM2102.02 615.42H2545.66V633.00H2102.02ZM74.26 632.40H108.94V649.98H74.26ZM142.42 632.40H637.18V649.98H142.42ZM687.70 632.40H1744.78V649.98H687.70ZM1795.30 632.40H1915.18V649.98H1795.30ZM1931.62 632.40H1966.30V649.98H1931.62ZM2102.02 632.40H2545.66V649.98H2102.02ZM74.26 649.38H125.98V666.96H74.26ZM142.42 649.38H603.10V666.96H142.42ZM687.70 649.38H1744.78V666.96H687.70ZM1795.30 649.38H1898.14V666.96H1795.30ZM1914.58 649.38H1966.30V666.96H1914.58ZM2102.02 649.38H2545.66V666.96H2102.02ZM74.26 666.36H586.06V683.94H74.26ZM687.70 666.36H1165.42V683.94H687.70ZM1198.90 666.36H1744.78V683.94H1198.90ZM1795.30 666.36H1983.34V683.94H1795.30ZM2102.02 666.36H2477.50V683.94H2102.02ZM74.26 683.34H586.06V700.92H74.26ZM670.66 683.34H1744.78V700.92H670.66ZM1795.30 683.34H1983.34V700.92H1795.30ZM2102.02 683.34H2358.22V700.92H2102.02ZM2374.66 683.34H2477.50V700.92H2374.66ZM74.26 700.32H569.02V717.90H74.26ZM670.66 700.32H1727.74V717.90H670.66ZM1795.30 700.32H1983.34V717.90H1795.30ZM2102.02 700.32H2358.22V717.90H2102.02ZM2374.66 700.32H2460.46V717.90H2374.66ZM74.26 717.30H569.02V734.88H74.26ZM670.66 717.30H1744.78V734.88H670.66ZM1812.34 717.30H1966.30V734.88H1812.34ZM2084.98 717.30H2443.42V734.88H2084.98ZM74.26 734.28H245.26V751.86H74.26ZM261.70 734.28H569.02V751.86H261.70ZM636.58 734.28H1744.78V751.86H636.58ZM1812.34 734.28H1949.26V751.86H1812.34ZM2050.90 734.28H2409.34V751.86H2050.90ZM74.26 751.26H279.34V768.84H74.26ZM312.82 751.26H586.06V768.84H312.82ZM619.54 751.26H1744.78V768.84H619.54ZM1812.34 751.26H1949.26V768.84H1812.34ZM2033.86 751.26H2392.30V768.84H2033.86ZM74.26 768.24H279.34V785.82H74.26ZM312.82 768.24H1744.78V785.82H312.82ZM1795.30 768.24H1949.26V785.82H1795.30ZM1999.78 768.24H2392.30V785.82H1999.78ZM91.30 785.22H279.34V802.80H91.30ZM312.82 785.22H1642.54V802.80H312.82ZM1710.10 785.22H1761.82V802.80H1710.10ZM1778.26 785.22H2392.30V802.80H1778.26ZM91.30 802.20H160.06V819.78H91.30ZM193.54 802.20H296.38V819.78H193.54ZM312.82 802.20H995.02V819.78H312.82ZM1045.54 802.20H1625.50V819.78H1045.54ZM1693.06 802.20H1710.70V819.78H1693.06ZM1727.14 802.20H2392.30V819.78H1727.14ZM91.30 819.18H160.06V836.76H91.30ZM193.54 819.18H995.02V836.76H193.54ZM1062.58 819.18H1233.58V836.76H1062.58ZM1284.10 819.18H1608.46V836.76H1284.10ZM1658.98 819.18H1761.82V836.76H1658.98ZM1829.38 819.18H2392.30V836.76H1829.38ZM91.30 836.16H143.02V853.74H91.30ZM210.58 836.16H296.38V853.74H210.58ZM312.82 836.16H995.02V853.74H312.82ZM1079.62 836.16H1199.50V853.74H1079.62ZM1301.14 836.16H1608.46V853.74H1301.14ZM1624.90 836.16H1710.70V853.74H1624.90ZM1846.42 836.16H2375.26V853.74H1846.42ZM91.30 853.14H143.02V870.72H91.30ZM210.58 853.14H995.02V870.72H210.58ZM1079.62 853.14H1165.42V870.72H1079.62ZM1301.14 853.14H1625.50V870.72H1301.14ZM1641.94 853.14H1676.62V870.72H1641.94ZM1846.42 853.14H1983.34V870.72H1846.42ZM2016.82 853.14H2375.26V870.72H2016.82ZM91.30 870.12H160.06V887.70H91.30ZM227.62 870.12H1012.06V887.70H227.62ZM1096.66 870.12H1165.42V887.70H1096.66ZM1301.14 870.12H1625.50V887.70H1301.14ZM1846.42 870.12H1966.30V887.70H1846.42ZM2016.82 870.12H2375.26V887.70H2016.82ZM108.34 887.10H160.06V904.68H108.34ZM227.62 887.10H943.90V904.68H227.62ZM994.42 887.10H1063.18V904.68H994.42ZM1096.66 887.10H1165.42V904.68H1096.66ZM1301.14 887.10H1506.22V904.68H1301.14ZM1556.74 887.10H1625.50V904.68H1556.74ZM1863.46 887.10H1949.26V904.68H1863.46ZM1999.78 887.10H2375.26V904.68H1999.78ZM108.34 904.08H143.02V921.66H108.34ZM244.66 904.08H960.94V921.66H244.66ZM994.42 904.08H1012.06V921.66H994.42ZM1028.50 904.08H1046.14V921.66H1028.50ZM1062.58 904.08H1165.42V921.66H1062.58ZM1301.14 904.08H1489.18V921.66H1301.14ZM1539.70 904.08H1625.50V921.66H1539.70ZM1846.42 904.08H2375.26V921.66H1846.42ZM108.34 921.06H143.02V938.64H108.34ZM278.74 921.06H1114.30V938.64H278.74ZM1147.78 921.06H1199.50V938.64H1147.78ZM1318.18 921.06H1472.14V938.64H1318.18ZM1539.70 921.06H1625.50V938.64H1539.70ZM1693.06 921.06H1710.70V938.64H1693.06ZM1727.14 921.06H1744.78V938.64H1727.14ZM1863.46 921.06H2358.22V938.64H1863.46ZM108.34 938.04H160.06V955.62H108.34ZM329.86 938.04H1080.22V955.62H329.86ZM1130.74 938.04H1199.50V955.62H1130.74ZM1318.18 938.04H1489.18V955.62H1318.18ZM1539.70 938.04H1659.58V955.62H1539.70ZM1676.02 938.04H1744.78V955.62H1676.02ZM1846.42 938.04H2358.22V955.62H1846.42ZM108.34 955.02H160.06V972.60H108.34ZM295.78 955.02H1199.50V972.60H295.78ZM1318.18 955.02H1727.74V972.60H1318.18ZM1846.42 955.02H2358.22V972.60H1846.42ZM125.38 972.00H160.06V989.58H125.38ZM278.74 972.00H1199.50V989.58H278.74ZM1318.18 972.00H1710.70V989.58H1318.18ZM1846.42 972.00H2358.22V989.58H1846.42ZM125.38 988.98H194.14V1006.56H125.38ZM278.74 988.98H1182.46V1006.56H278.74ZM1318.18 988.98H1693.66V1006.56H1318.18ZM1812.34 988.98H2358.22V1006.56H1812.34ZM125.38 1005.96H211.18V1023.54H125.38ZM278.74 1005.96H1165.42V1023.54H278.74ZM1318.18 1005.96H1693.66V1023.54H1318.18ZM1778.26 1005.96H2358.22V1023.54H1778.26ZM125.38 1022.94H211.18V1040.52H125.38ZM295.78 1022.94H449.74V1040.52H295.78ZM500.26 1022.94H756.46V1040.52H500.26ZM789.94 1022.94H1165.42V1040.52H789.94ZM1301.14 1022.94H1693.66V1040.52H1301.14ZM1761.22 1022.94H2375.26V1040.52H1761.22ZM125.38 1039.92H211.18V1057.50H125.38ZM329.86 1039.92H449.74V1057.50H329.86ZM517.30 1039.92H739.42V1057.50H517.30ZM806.98 1039.92H1216.54V1057.50H806.98ZM1284.10 1039.92H1710.70V1057.50H1284.10ZM1727.14 1039.92H2375.26V1057.50H1727.14ZM142.42 1056.90H211.18V1074.48H142.42ZM346.90 1056.90H432.70V1074.48H346.90ZM602.50 1056.90H756.46V1074.48H602.50ZM806.98 1056.90H2392.30V1074.48H806.98ZM176.50 1073.88H211.18V1091.46H176.50ZM346.90 1073.88H432.70V1091.46H346.90ZM619.54 1073.88H756.46V1091.46H619.54ZM806.98 1073.88H943.90V1091.46H806.98ZM977.38 1073.88H1710.70V1091.46H977.38ZM1727.14 1073.88H2392.30V1091.46H1727.14ZM193.54 1090.86H211.18V1108.44H193.54ZM363.94 1090.86H415.66V1108.44H363.94ZM636.58 1090.86H943.90V1108.44H636.58ZM977.38 1090.86H1676.62V1108.44H977.38ZM1710.10 1090.86H2392.30V1108.44H1710.10ZM363.94 1107.84H415.66V1125.42H363.94ZM636.58 1107.84H1659.58V1125.42H636.58ZM1710.10 1107.84H2051.50V1125.42H1710.10ZM2102.02 1107.84H2375.26V1125.42H2102.02ZM363.94 1124.82H415.66V1142.40H363.94ZM619.54 1124.82H1642.54V1142.40H619.54ZM1710.10 1124.82H2034.46V1142.40H1710.10ZM2102.02 1124.82H2358.22V1142.40H2102.02ZM346.90 1141.80H415.66V1159.38H346.90ZM636.58 1141.80H688.30V1159.38H636.58ZM755.86 1141.80H1284.70V1159.38H755.86ZM1301.14 1141.80H1506.22V1159.38H1301.14ZM1539.70 1141.80H1642.54V1159.38H1539.70ZM1693.06 1141.80H2017.42V1159.38H1693.06ZM2102.02 1141.80H2324.14V1159.38H2102.02ZM346.90 1158.78H415.66V1176.36H346.90ZM653.62 1158.78H671.26V1176.36H653.62ZM755.86 1158.78H1267.66V1176.36H755.86ZM1284.10 1158.78H1506.22V1176.36H1284.10ZM1539.70 1158.78H2000.38V1176.36H1539.70ZM2119.06 1158.78H2307.10V1176.36H2119.06ZM261.70 1175.76H279.34V1193.34H261.70ZM329.86 1175.76H432.70V1193.34H329.86ZM755.86 1175.76H1233.58V1193.34H755.86ZM1284.10 1175.76H2000.38V1193.34H1284.10ZM2102.02 1175.76H2307.10V1193.34H2102.02ZM261.70 1192.74H296.38V1210.32H261.70ZM329.86 1192.74H466.78V1210.32H329.86ZM789.94 1192.74H1199.50V1210.32H789.94ZM1284.10 1192.74H2017.42V1210.32H1284.10ZM2102.02 1192.74H2290.06V1210.32H2102.02ZM261.70 1209.72H313.42V1227.30H261.70ZM329.86 1209.72H466.78V1227.30H329.86ZM789.94 1209.72H1199.50V1227.30H789.94ZM1267.06 1209.72H2051.50V1227.30H1267.06ZM2084.98 1209.72H2255.98V1227.30H2084.98ZM278.74 1226.70H330.46V1244.28H278.74ZM363.94 1226.70H483.82V1244.28H363.94ZM806.98 1226.70H1199.50V1244.28H806.98ZM1267.06 1226.70H2238.94V1244.28H1267.06ZM398.02 1243.68H483.82V1261.26H398.02ZM653.62 1243.68H671.26V1261.26H653.62ZM806.98 1243.68H1182.46V1261.26H806.98ZM1267.06 1243.68H2238.94V1261.26H1267.06ZM398.02 1260.66H483.82V1278.24H398.02ZM551.38 1260.66H688.30V1278.24H551.38ZM806.98 1260.66H1182.46V1278.24H806.98ZM1267.06 1260.66H2238.94V1278.24H1267.06ZM415.06 1277.64H483.82V1295.22H415.06ZM551.38 1277.64H688.30V1295.22H551.38ZM824.02 1277.64H875.74V1295.22H824.02ZM943.30 1277.64H1182.46V1295.22H943.30ZM1267.06 1277.64H2221.90V1295.22H1267.06ZM449.14 1294.62H483.82V1312.20H449.14ZM568.42 1294.62H705.34V1312.20H568.42ZM824.02 1294.62H858.70V1312.20H824.02ZM943.30 1294.62H1216.54V1312.20H943.30ZM1284.10 1294.62H2204.86V1312.20H1284.10ZM585.46 1311.60H705.34V1329.18H585.46ZM824.02 1311.60H841.66V1329.18H824.02ZM960.34 1311.60H1233.58V1329.18H960.34ZM1267.06 1311.60H2187.82V1329.18H1267.06ZM636.58 1328.58H654.22V1346.16H636.58ZM670.66 1328.58H739.42V1346.16H670.66ZM977.38 1328.58H1949.26V1346.16H977.38ZM1982.74 1328.58H2170.78V1346.16H1982.74ZM670.66 1345.56H756.46V1363.14H670.66ZM772.90 1345.56H790.54V1363.14H772.90ZM977.38 1345.56H1932.22V1363.14H977.38ZM1999.78 1345.56H2170.78V1363.14H1999.78ZM670.66 1362.54H807.58V1380.12H670.66ZM960.34 1362.54H1182.46V1380.12H960.34ZM1215.94 1362.54H1915.18V1380.12H1215.94ZM1999.78 1362.54H2153.74V1380.12H1999.78ZM602.50 1379.52H620.14V1397.10H602.50ZM670.66 1379.52H722.38V1397.10H670.66ZM772.90 1379.52H824.62V1397.10H772.90ZM960.34 1379.52H1148.38V1397.10H960.34ZM1250.02 1379.52H1915.18V1397.10H1250.02ZM2016.82 1379.52H2153.74V1397.10H2016.82ZM704.74 1396.50H722.38V1414.08H704.74ZM960.34 1396.50H1097.26V1414.08H960.34ZM1267.06 1396.50H1301.74V1414.08H1267.06ZM1335.22 1396.50H1829.98V1414.08H1335.22ZM1846.42 1396.50H1898.14V1414.08H1846.42ZM1914.58 1396.50H1932.22V1414.08H1914.58ZM1999.78 1396.50H2153.74V1414.08H1999.78ZM824.02 1413.48H841.66V1431.06H824.02ZM960.34 1413.48H1080.22V1431.06H960.34ZM1267.06 1413.48H1301.74V1431.06H1267.06ZM1369.30 1413.48H1829.98V1431.06H1369.30ZM1863.46 1413.48H1949.26V1431.06H1863.46ZM2016.82 1413.48H2153.74V1431.06H2016.82ZM841.06 1430.46H858.70V1448.04H841.06ZM960.34 1430.46H1080.22V1448.04H960.34ZM1267.06 1430.46H1301.74V1448.04H1267.06ZM1386.34 1430.46H2153.74V1448.04H1386.34ZM960.34 1447.44H1080.22V1465.02H960.34ZM1386.34 1447.44H2153.74V1465.02H1386.34ZM977.38 1464.42H1080.22V1482.00H977.38ZM1386.34 1464.42H2170.78V1482.00H1386.34ZM994.42 1481.40H1063.18V1498.98H994.42ZM1267.06 1481.40H1301.74V1498.98H1267.06ZM1403.38 1481.40H1881.10V1498.98H1403.38ZM1897.54 1481.40H2187.82V1498.98H1897.54ZM1267.06 1498.38H1318.78V1515.96H1267.06ZM1403.38 1498.38H1812.94V1515.96H1403.38ZM1931.62 1498.38H2000.38V1515.96H1931.62ZM2050.90 1498.38H2187.82V1515.96H2050.90ZM892.18 1515.36H909.82V1532.94H892.18ZM1267.06 1515.36H1352.86V1532.94H1267.06ZM1403.38 1515.36H1744.78V1532.94H1403.38ZM1948.66 1515.36H1983.34V1532.94H1948.66ZM2067.94 1515.36H2204.86V1532.94H2067.94ZM1250.02 1532.34H1369.90V1549.92H1250.02ZM1403.38 1532.34H1727.74V1549.92H1403.38ZM2084.98 1532.34H2221.90V1549.92H2084.98ZM1250.02 1549.32H1489.18V1566.90H1250.02ZM1522.66 1549.32H1591.42V1566.90H1522.66ZM1607.86 1549.32H1727.74V1566.90H1607.86ZM2102.02 1549.32H2221.90V1566.90H2102.02ZM1096.66 1566.30H1131.34V1583.88H1096.66ZM1267.06 1566.30H1455.10V1583.88H1267.06ZM1624.90 1566.30H1693.66V1583.88H1624.90ZM1710.10 1566.30H1744.78V1583.88H1710.10ZM2102.02 1566.30H2221.90V1583.88H2102.02ZM1113.70 1583.28H1131.34V1600.86H1113.70ZM1284.10 1583.28H1438.06V1600.86H1284.10ZM1641.94 1583.28H1659.58V1600.86H1641.94ZM1727.14 1583.28H1744.78V1600.86H1727.14ZM2102.02 1583.28H2238.94V1600.86H2102.02ZM1113.70 1600.26H1131.34V1617.84H1113.70ZM1267.06 1600.26H1403.98V1617.84H1267.06ZM2102.02 1600.26H2255.98V1617.84H2102.02ZM1113.70 1617.24H1148.38V1634.82H1113.70ZM1284.10 1617.24H1386.94V1634.82H1284.10ZM2102.02 1617.24H2255.98V1634.82H2102.02ZM1130.74 1634.22H1148.38V1651.80H1130.74ZM1335.22 1634.22H1352.86V1651.80H1335.22ZM2102.02 1634.22H2273.02V1651.80H2102.02ZM1130.74 1651.20H1148.38V1668.78H1130.74ZM1215.94 1651.20H1284.70V1668.78H1215.94ZM2136.10 1651.20H2273.02V1668.78H2136.10ZM1147.78 1668.18H1284.70V1685.76H1147.78ZM2136.10 1668.18H2273.02V1685.76H2136.10ZM1164.82 1685.16H1284.70V1702.74H1164.82ZM2153.14 1685.16H2273.02V1702.74H2153.14ZM1164.82 1702.14H1267.66V1719.72H1164.82ZM1284.10 1702.14H1301.74V1719.72H1284.10ZM2170.18 1702.14H2290.06V1719.72H2170.18ZM1164.82 1719.12H1267.66V1736.70H1164.82ZM1284.10 1719.12H1301.74V1736.70H1284.10ZM2187.22 1719.12H2290.06V1736.70H2187.22ZM1181.86 1736.10H1267.66V1753.68H1181.86ZM1284.10 1736.10H1301.74V1753.68H1284.10ZM2204.26 1736.10H2290.06V1753.68H2204.26ZM1181.86 1753.08H1301.74V1770.66H1181.86ZM2221.30 1753.08H2273.02V1770.66H2221.30ZM1215.94 1770.06H1301.74V1787.64H1215.94ZM2136.10 1770.06H2153.74V1787.64H2136.10ZM2170.18 1770.06H2187.82V1787.64H2170.18ZM2204.26 1770.06H2221.90V1787.64H2204.26ZM1267.06 1787.04H1301.74V1804.62H1267.06Z"/>
<path fill="#e2edf3" d="M1301.14 479.58H1352.86V497.16H1301.14ZM1301.14 496.56H1335.82V514.14H1301.14ZM500.26 513.54H586.06V531.12H500.26ZM1301.14 513.54H1318.78V531.12H1301.14ZM500.26 530.52H586.06V548.10H500.26ZM363.94 547.50H381.58V565.08H363.94ZM517.30 547.50H569.02V565.08H517.30ZM2340.58 547.50H2358.22V565.08H2340.58ZM517.30 564.48H534.94V582.06H517.30ZM2221.30 564.48H2324.14V582.06H2221.30ZM2238.34 581.46H2307.10V599.04H2238.34ZM108.34 615.42H143.02V633.00H108.34ZM108.34 632.40H143.02V649.98H108.34ZM125.38 649.38H143.02V666.96H125.38ZM244.66 734.28H262.30V751.86H244.66ZM278.74 751.26H313.42V768.84H278.74ZM278.74 768.24H313.42V785.82H278.74ZM278.74 785.22H313.42V802.80H278.74ZM1641.94 785.22H1710.70V802.80H1641.94ZM159.46 802.20H194.14V819.78H159.46ZM295.78 802.20H313.42V819.78H295.78ZM994.42 802.20H1046.14V819.78H994.42ZM1624.90 802.20H1693.66V819.78H1624.90ZM1710.10 802.20H1727.74V819.78H1710.10ZM159.46 819.18H194.14V836.76H159.46ZM994.42 819.18H1063.18V836.76H994.42ZM1232.98 819.18H1284.70V836.76H1232.98ZM1607.86 819.18H1659.58V836.76H1607.86ZM1761.22 819.18H1829.98V836.76H1761.22ZM142.42 836.16H211.18V853.74H142.42ZM295.78 836.16H313.42V853.74H295.78ZM994.42 836.16H1080.22V853.74H994.42ZM1198.90 836.16H1301.74V853.74H1198.90ZM1607.86 836.16H1625.50V853.74H1607.86ZM1710.10 836.16H1847.02V853.74H1710.10ZM142.42 853.14H211.18V870.72H142.42ZM994.42 853.14H1080.22V870.72H994.42ZM1164.82 853.14H1301.74V870.72H1164.82ZM1624.90 853.14H1642.54V870.72H1624.90ZM1676.02 853.14H1847.02V870.72H1676.02ZM1982.74 853.14H2017.42V870.72H1982.74ZM159.46 870.12H228.22V887.70H159.46ZM1011.46 870.12H1097.26V887.70H1011.46ZM1164.82 870.12H1301.74V887.70H1164.82ZM1624.90 870.12H1847.02V887.70H1624.90ZM1965.70 870.12H2017.42V887.70H1965.70ZM159.46 887.10H228.22V904.68H159.46ZM943.30 887.10H995.02V904.68H943.30ZM1062.58 887.10H1097.26V904.68H1062.58ZM1164.82 887.10H1301.74V904.68H1164.82ZM1505.62 887.10H1557.34V904.68H1505.62ZM1624.90 887.10H1864.06V904.68H1624.90ZM1948.66 887.10H2000.38V904.68H1948.66ZM142.42 904.08H245.26V921.66H142.42ZM960.34 904.08H995.02V921.66H960.34ZM1011.46 904.08H1029.10V921.66H1011.46ZM1045.54 904.08H1063.18V921.66H1045.54ZM1164.82 904.08H1301.74V921.66H1164.82ZM1488.58 904.08H1540.30V921.66H1488.58ZM1624.90 904.08H1847.02V921.66H1624.90ZM142.42 921.06H279.34V938.64H142.42ZM1113.70 921.06H1148.38V938.64H1113.70ZM1198.90 921.06H1318.78V938.64H1198.90ZM1471.54 921.06H1540.30V938.64H1471.54ZM1624.90 921.06H1693.66V938.64H1624.90ZM1710.10 921.06H1727.74V938.64H1710.10ZM1744.18 921.06H1864.06V938.64H1744.18ZM159.46 938.04H330.46V955.62H159.46ZM1079.62 938.04H1131.34V955.62H1079.62ZM1198.90 938.04H1318.78V955.62H1198.90ZM1488.58 938.04H1540.30V955.62H1488.58ZM1658.98 938.04H1676.62V955.62H1658.98ZM1744.18 938.04H1847.02V955.62H1744.18ZM159.46 955.02H296.38V972.60H159.46ZM1198.90 955.02H1318.78V972.60H1198.90ZM1727.14 955.02H1847.02V972.60H1727.14ZM159.46 972.00H279.34V989.58H159.46ZM1198.90 972.00H1318.78V989.58H1198.90ZM1710.10 972.00H1847.02V989.58H1710.10ZM193.54 988.98H279.34V1006.56H193.54ZM1181.86 988.98H1318.78V1006.56H1181.86ZM1693.06 988.98H1812.94V1006.56H1693.06ZM210.58 1005.96H279.34V1023.54H210.58ZM1164.82 1005.96H1318.78V1023.54H1164.82ZM1693.06 1005.96H1778.86V1023.54H1693.06ZM210.58 1022.94H296.38V1040.52H210.58ZM449.14 1022.94H500.86V1040.52H449.14ZM755.86 1022.94H790.54V1040.52H755.86ZM1164.82 1022.94H1301.74V1040.52H1164.82ZM1693.06 1022.94H1761.82V1040.52H1693.06ZM210.58 1039.92H330.46V1057.50H210.58ZM449.14 1039.92H517.90V1057.50H449.14ZM738.82 1039.92H807.58V1057.50H738.82ZM1215.94 1039.92H1284.70V1057.50H1215.94ZM1710.10 1039.92H1727.74V1057.50H1710.10ZM210.58 1056.90H347.50V1074.48H210.58ZM432.10 1056.90H603.10V1074.48H432.10ZM755.86 1056.90H807.58V1074.48H755.86ZM210.58 1073.88H347.50V1091.46H210.58ZM432.10 1073.88H620.14V1091.46H432.10ZM755.86 1073.88H807.58V1091.46H755.86ZM943.30 1073.88H977.98V1091.46H943.30ZM1710.10 1073.88H1727.74V1091.46H1710.10ZM210.58 1090.86H364.54V1108.44H210.58ZM415.06 1090.86H637.18V1108.44H415.06ZM943.30 1090.86H977.98V1108.44H943.30ZM1676.02 1090.86H1710.70V1108.44H1676.02ZM210.58 1107.84H364.54V1125.42H210.58ZM415.06 1107.84H637.18V1125.42H415.06ZM1658.98 1107.84H1710.70V1125.42H1658.98ZM227.62 1124.82H364.54V1142.40H227.62ZM415.06 1124.82H620.14V1142.40H415.06ZM1641.94 1124.82H1710.70V1142.40H1641.94ZM244.66 1141.80H347.50V1159.38H244.66ZM415.06 1141.80H637.18V1159.38H415.06ZM687.70 1141.80H756.46V1159.38H687.70ZM1641.94 1141.80H1693.66V1159.38H1641.94ZM244.66 1158.78H347.50V1176.36H244.66ZM415.06 1158.78H654.22V1176.36H415.06ZM670.66 1158.78H756.46V1176.36H670.66ZM278.74 1175.76H330.46V1193.34H278.74ZM432.10 1175.76H756.46V1193.34H432.10ZM295.78 1192.74H330.46V1210.32H295.78ZM466.18 1192.74H790.54V1210.32H466.18ZM312.82 1209.72H330.46V1227.30H312.82ZM466.18 1209.72H790.54V1227.30H466.18ZM329.86 1226.70H364.54V1244.28H329.86ZM483.22 1226.70H807.58V1244.28H483.22ZM380.98 1243.68H398.62V1261.26H380.98ZM483.22 1243.68H654.22V1261.26H483.22ZM670.66 1243.68H807.58V1261.26H670.66ZM483.22 1260.66H551.98V1278.24H483.22ZM687.70 1260.66H807.58V1278.24H687.70ZM483.22 1277.64H551.98V1295.22H483.22ZM687.70 1277.64H824.62V1295.22H687.70ZM875.14 1277.64H943.90V1295.22H875.14ZM483.22 1294.62H569.02V1312.20H483.22ZM704.74 1294.62H824.62V1312.20H704.74ZM858.10 1294.62H943.90V1312.20H858.10ZM466.18 1311.60H586.06V1329.18H466.18ZM704.74 1311.60H824.62V1329.18H704.74ZM841.06 1311.60H960.94V1329.18H841.06ZM500.26 1328.58H637.18V1346.16H500.26ZM653.62 1328.58H671.26V1346.16H653.62ZM738.82 1328.58H977.98V1346.16H738.82ZM517.30 1345.56H671.26V1363.14H517.30ZM755.86 1345.56H773.50V1363.14H755.86ZM789.94 1345.56H977.98V1363.14H789.94ZM551.38 1362.54H671.26V1380.12H551.38ZM806.98 1362.54H960.94V1380.12H806.98ZM1181.86 1362.54H1216.54V1380.12H1181.86ZM619.54 1379.52H671.26V1397.10H619.54ZM824.02 1379.52H960.94V1397.10H824.02ZM1147.78 1379.52H1250.62V1397.10H1147.78ZM824.02 1396.50H960.94V1414.08H824.02ZM1096.66 1396.50H1267.66V1414.08H1096.66ZM1301.14 1396.50H1335.82V1414.08H1301.14ZM841.06 1413.48H960.94V1431.06H841.06ZM1079.62 1413.48H1267.66V1431.06H1079.62ZM1301.14 1413.48H1369.90V1431.06H1301.14ZM858.10 1430.46H960.94V1448.04H858.10ZM1079.62 1430.46H1267.66V1448.04H1079.62ZM1301.14 1430.46H1386.94V1448.04H1301.14ZM858.10 1447.44H960.94V1465.02H858.10ZM1079.62 1447.44H1386.94V1465.02H1079.62ZM875.14 1464.42H977.98V1482.00H875.14ZM1079.62 1464.42H1386.94V1482.00H1079.62ZM892.18 1481.40H995.02V1498.98H892.18ZM1062.58 1481.40H1267.66V1498.98H1062.58ZM1301.14 1481.40H1403.98V1498.98H1301.14ZM892.18 1498.38H1267.66V1515.96H892.18ZM1318.18 1498.38H1403.98V1515.96H1318.18ZM909.22 1515.36H1267.66V1532.94H909.22ZM1352.26 1515.36H1403.98V1532.94H1352.26ZM909.22 1532.34H1250.62V1549.92H909.22ZM1369.30 1532.34H1403.98V1549.92H1369.30ZM926.26 1549.32H995.02V1566.90H926.26ZM1079.62 1549.32H1250.62V1566.90H1079.62ZM943.30 1566.30H977.98V1583.88H943.30ZM1130.74 1566.30H1267.66V1583.88H1130.74ZM1130.74 1583.28H1284.70V1600.86H1130.74ZM1130.74 1600.26H1267.66V1617.84H1130.74ZM1147.78 1617.24H1284.70V1634.82H1147.78ZM1147.78 1634.22H1335.82V1651.80H1147.78ZM1147.78 1651.20H1216.54V1668.78H1147.78ZM1284.10 1651.20H1318.78V1668.78H1284.10ZM1284.10 1668.18H1318.78V1685.76H1284.10ZM1284.10 1685.16H1301.74V1702.74H1284.10ZM1267.06 1702.14H1284.70V1719.72H1267.06ZM1267.06 1719.12H1284.70V1736.70H1267.06ZM1267.06 1736.10H1284.70V1753.68H1267.06Z"/>
<path fill="#559ec9" d="M858.10 326.76H926.86V344.34H858.10ZM1403.38 326.76H1421.02V344.34H1403.38ZM875.14 343.74H977.98V361.32H875.14ZM892.18 360.72H977.98V378.30H892.18ZM909.22 377.70H995.02V395.28H909.22ZM806.98 394.68H824.62V412.26H806.98ZM909.22 394.68H995.02V412.26H909.22ZM772.90 411.66H841.66V429.24H772.90ZM909.22 411.66H1029.10V429.24H909.22ZM738.82 428.64H1046.14V446.22H738.82ZM704.74 445.62H1046.14V463.20H704.74ZM704.74 462.60H722.38V480.18H704.74ZM738.82 462.60H1063.18V480.18H738.82ZM789.94 479.58H1063.18V497.16H789.94ZM841.06 496.56H1063.18V514.14H841.06ZM858.10 513.54H1080.22V531.12H858.10ZM841.06 530.52H1080.22V548.10H841.06ZM875.14 547.50H1097.26V565.08H875.14ZM909.22 564.48H1012.06V582.06H909.22ZM1028.50 564.48H1097.26V582.06H1028.50ZM653.62 615.42H671.26V633.00H653.62ZM636.58 632.40H688.30V649.98H636.58ZM602.50 649.38H688.30V666.96H602.50ZM585.46 666.36H688.30V683.94H585.46ZM1164.82 666.36H1199.50V683.94H1164.82ZM585.46 683.34H671.26V700.92H585.46ZM2357.62 683.34H2375.26V700.92H2357.62ZM568.42 700.32H671.26V717.90H568.42ZM2357.62 700.32H2375.26V717.90H2357.62ZM568.42 717.30H671.26V734.88H568.42ZM568.42 734.28H637.18V751.86H568.42ZM585.46 751.26H620.14V768.84H585.46ZM2050.90 1107.84H2102.62V1125.42H2050.90ZM2033.86 1124.82H2102.62V1142.40H2033.86ZM1284.10 1141.80H1301.74V1159.38H1284.10ZM1505.62 1141.80H1540.30V1159.38H1505.62ZM2016.82 1141.80H2102.62V1159.38H2016.82ZM1267.06 1158.78H1284.70V1176.36H1267.06ZM1505.62 1158.78H1540.30V1176.36H1505.62ZM1999.78 1158.78H2119.66V1176.36H1999.78ZM1232.98 1175.76H1284.70V1193.34H1232.98ZM1999.78 1175.76H2102.62V1193.34H1999.78ZM1198.90 1192.74H1284.70V1210.32H1198.90ZM2016.82 1192.74H2102.62V1210.32H2016.82ZM1198.90 1209.72H1267.66V1227.30H1198.90ZM2050.90 1209.72H2085.58V1227.30H2050.90ZM1198.90 1226.70H1267.66V1244.28H1198.90ZM1181.86 1243.68H1267.66V1261.26H1181.86ZM1181.86 1260.66H1267.66V1278.24H1181.86ZM1181.86 1277.64H1267.66V1295.22H1181.86ZM1215.94 1294.62H1284.70V1312.20H1215.94ZM1232.98 1311.60H1267.66V1329.18H1232.98ZM1948.66 1328.58H1983.34V1346.16H1948.66ZM1931.62 1345.56H2000.38V1363.14H1931.62ZM1914.58 1362.54H2000.38V1380.12H1914.58ZM1914.58 1379.52H2017.42V1397.10H1914.58ZM1829.38 1396.50H1847.02V1414.08H1829.38ZM1897.54 1396.50H1915.18V1414.08H1897.54ZM1931.62 1396.50H2000.38V1414.08H1931.62ZM1829.38 1413.48H1864.06V1431.06H1829.38ZM1948.66 1413.48H2017.42V1431.06H1948.66Z"/>
</g>
<g class="coast">
<path d="M234.3 177.7L240.7 185.8L248.8 192.2L256.9 199.4L265 205.7L272.3 211.1L277.7 214.7L281.3 212.9L284.9 211.1L288.1 212.9L289.4 215.7L291.2 214.7L291.2 209.3L290.8 202.1L289.4 197.6L286.7 202.1L284.9 203.9L284.5 197.6L284 188.6L283.6 177.7"/>
<path d="M286.7 180.4L290.3 180L295.8 183.1L298.5 186.7L295.8 190.4L293.9 194.9L290.3 197.6L288.1 193.1L287.2 185.8L286.7 180.4"/>
<path d="M297.6 206.6L301.2 204.8L303.9 208.4L303 212.9L299.4 213.8L296.7 211.1L297.6 206.6"/>
<path d="M305.7 203.9L311.1 202.1L315.6 205.7L316.5 209.3L312 211.1L307.5 210.2L304.8 206.6L305.7 203.9"/>
<path d="M303.9 214.7L308.4 212.9L311.1 217.5L309.3 222L305.7 221.1L303.9 214.7"/>
<path d="M309.3 181.3L313.8 180.9L316.5 183.1L314.7 186.7L311.1 187.6L308.9 184.9L309.3 181.3"/>
<path d="M316.5 220.2L312.9 225.6L308.4 231L307.5 236.4L311.1 238.2L316.5 234.6L319.2 229.2L317.4 223.8"/>
<path d="M312 240L308.4 245.5L310.2 251.8L314.7 256.3L319.2 252.7L321 247.3L318.3 241.8L313.8 240"/>
<path d="M311.1 259L307.5 265.3L303.9 272.6L301.2 278.9L303.9 281.6L307.5 276.2L310.2 268.9L312.9 262.6"/>
<path d="M301.2 265.3L297.6 270.8L298.5 276.2L302.1 273.5L303.9 268"/>
<path d="M301.2 281.6L297.6 287L301.2 289.7L305.7 286.1L305.7 281.6"/>
<path d="M219 331.5L230.8 333L239.6 338.9L250 346.3L241.1 343.3L233.7 337.4L221.9 336L217.5 336"/>
<path d="M1955.5 192.8L1961.4 186.3L1970.3 179.5"/>
<path d="M1989.5 179.5L1999.8 186.9L2008.7 194.2L2018.1 204"/>
<path d="M2462.2 178L2453.3 192.8L2445.9 207.5L2440 225.2L2437.1 243L2431.2 256.2L2428.2 266.6L2426.7 281.3L2420.8 296.1L2413.4 310.9L2409 325.6L2403.1 337.4L2395.7 349.2"/>
<path d="M2395.7 349.2L2407.5 340.4L2416.4 331.5L2425.2 316.8L2431.2 302L2437.1 281.3L2441.5 263.6L2447.4 248.9L2454.8 234.1L2466.6 216.4L2481.3 201.6L2496.1 189.8L2509.4 178"/>
<path d="M2395.7 349.2L2386.9 358.1L2376.5 368.4L2369.1 371.4L2360.3 381.7L2351.4 393.5L2341.1 405.3L2333.7 414.2L2330.8 426L2327.8 434.9L2324.9 445.2L2321.9 454.1L2314.5 462.9L2307.1 470.3L2295.3 488L2282.1 501.3"/>
<path d="M2397.2 344.8L2389.8 353.7L2379.5 365.5L2370.6 369.3L2363.2 378.2L2354.4 390L2344.1 401.8L2336.7 411.2"/>
<path d="M2326.3 434.9L2319 443.7L2311.6 449.6L2307.1 458.5L2304.2 468.8L2290.9 468.8L2307.1 470.3"/>
<path d="M2324.9 445.2L2324.9 461.4L2317.5 468.8L2307.1 476.2L2298.3 485.1"/>
<path d="M2372.1 256.2L2381 258.3L2395.7 255.4L2410.5 255.4L2426.7 258.3"/>
<path d="M2372.1 255.4L2381 256.2L2395.7 253.6L2410.5 253.6L2426.7 256.5"/>
<path d="M2617.2 178L2614.2 186.9L2602.4 201.6L2572.9 204.6L2567 210.5L2555.2 216.4L2543.3 225.2L2555.2 220.8L2578.8 217.9L2596.5 228.2L2608.3 213.4L2629 209L2631.9 192.8L2633.4 222.3L2629 237L2620.1 256.2L2631.9 250.3L2649.6 269.5L2661.4 279.9L2670.3 291.7L2696.9 289.6L2699.8 296.1L2708.7 299.1L2732.3 293.1L2753 290.2L2773.6 275.4L2788.4 266.6L2809.1 275.4L2822.4 269.5L2822.4 219.3L2806.1 213.4L2794.3 195.7L2797.3 183.9"/>
<path d="M2671.8 237L2676.2 248.9L2691 260.7L2705.7 256.2L2729.4 250.3L2763.3 238.5L2755.9 251.8L2747.1 262.1L2732.3 263.6L2741.2 274L2720.5 275.4L2705.7 276.9L2691 272.5L2679.2 266.6L2665.9 266.6L2668.8 251.8L2671.8 237"/>
<path d="M2742.6 185.4L2748.5 182.4L2753 189.8L2748.5 195.7L2743.5 192.8L2742.6 185.4"/>
<path d="M2610.7 408.3L2615.7 406.8L2617.2 414.2L2613.6 421.6L2609.8 417.1L2610.7 408.3"/>
<path d="M105.3 836L109.7 825.7L114.1 819.8L121.5 819.8L127.4 825.7L134.8 825.7L142.2 831.6L157 838.1L145.1 836L133.3 829.2L118.6 829.2L114.1 834.5L112.7 846.3L118.6 855.2L120.1 862.6L114.1 858.1L108.2 846.3L106.2 837.5"/>
<path d="M2348.5 994L2333.7 994L2324.9 999.9L2313.1 988.1L2301.2 985.1L2283.5 983.6L2301.2 988.1L2319 999.9L2330.8 988.1L2319 976.2L2304.2 967.4L2321.9 980.7L2327.8 970.3L2319 955.6L2295.3 940.8L2276.1 932L2298.3 946.7L2321.9 958.5L2321.9 940.8L2307.1 929L2295.3 920.2L2283.5 915.7L2268.8 920.2L2264.3 914.2L2268.8 899.5L2274.7 887.7L2270.2 902.4L2271.7 914.2L2285 912.8L2298.3 917.2L2313.1 926.1L2298.3 902.4L2290.9 884.7L2289.4 870L2295.3 855.2L2301.2 846.3L2308.6 837.5L2311.6 837.5L2307.1 852.2L2308.6 864.1L2304.2 875.9L2307.1 890.6L2321.9 893.6L2313.1 899.5L2311.6 906.9L2324.9 912.8L2333.7 906.9L2336.7 920.2L2350 926.1L2342.6 943.8L2341.1 967.4L2347 979.2"/>
<path d="M2509.4 666.2L2513.8 661.8L2522.7 657.4L2521.2 663.3L2513.8 667.7L2509.4 666.2"/>
<path d="M2537.4 661.8L2546.3 653L2550.7 658.9L2544.8 663.3L2537.4 661.8"/>
<path d="M128.9 1088.9L134.8 1087.2L137.8 1091L131.9 1091.9L128.9 1088.9"/>
<path d="M139.2 1094L146.6 1095.4L151.6 1099.9L146.6 1104.3L140.7 1099.9L139.2 1094"/>
<path d="M155.5 1096.9L162.9 1095.4L174.7 1101.3L174.7 1105.8L162.9 1104.9L157 1101.3L155.5 1096.9"/>
<path d="M210.7 1150.9L216 1150.1L223.4 1157.4L224.9 1165.7L217.5 1163.3L214.5 1157.4L210.7 1150.9"/>
<path d="M157.5 1148L162.3 1146.2L166.4 1150.9L164.3 1155.1L159.3 1153L157.5 1148"/>
<path d="M202.7 1178.1L207.1 1176.6L210.7 1187L213.6 1193.5L208.6 1194.3L204.8 1187L202.7 1178.1"/>
<path d="M143.7 1412.8L148.1 1409.9L151.6 1414.3L151.6 1426.1L146.6 1430.5L144.6 1423.2L143.7 1412.8"/>
<path d="M406.4 1455.6L412.3 1454.2L416.8 1461.5L419.7 1471.9L427.1 1476.3L425.6 1494L419.7 1486.6L410.9 1473.3L406.4 1463L406.4 1455.6"/>
<path d="M2366.2 1114.6L2357.3 1129.4L2348.5 1130.9L2355.9 1117.6L2348.5 1114.6L2336.7 1119L2327.8 1117.6L2321.9 1113.1L2336.7 1114.6L2347 1104.3L2347 1098.4L2336.7 1095.4L2324.9 1094L2317.5 1089.5L2330.8 1091L2341.1 1088L2341.1 1083.6L2348.5 1089.5L2360.3 1089.5L2366.2 1085.1L2372.1 1076.2L2378 1065.9L2376.5 1060"/>
<path d="M2391.3 1060L2394.2 1065.9L2397.2 1077.7L2395.7 1086.6L2389.8 1091"/>
<path stroke-dasharray="14 6" d="M2389.8 1091L2375.1 1101.3"/>
<path d="M289.8 1521.7L298.7 1506.9L304.6 1508.4L304.6 1521.7L300.2 1529L289.8 1521.7"/>
<path d="M489.1 1715.1L493.5 1704.7L500.9 1700.3L499.4 1706.2L493.5 1712.1L489.1 1715.1"/>
<path d="M508.3 1768.2L512.7 1766.7L518.6 1775.6L517.2 1783L511.3 1778.5L508.3 1768.2"/>
<path d="M546.7 1822.8L549.6 1822.8L553.2 1834.6L549.6 1837.6L546.7 1830.2L546.7 1822.8"/>
<path d="M413.8 1768.2L422.7 1752L429.2 1737.2L430.9 1741.6L425.6 1754.9L419.7 1768.2L413.8 1768.2"/>
<path d="M425.6 1786.8L433 1788.9L444.8 1799.2L443.3 1803.6L434.5 1796.2L425.6 1786.8"/>
<path d="M455.2 1511.3L462.5 1501L474.3 1501L475.8 1509.9L468.4 1520.2L461.1 1517.2L455.2 1511.3"/>
<path d="M347.4 1548.2L354.8 1548.2L353.3 1557.1L356.2 1566L348.9 1563L343.6 1555.6L347.4 1548.2"/>
<path d="M1298.3 1787.4L1291 1772.6L1285.1 1760.8L1282.1 1746.1L1278.6 1729.8L1283.6 1719.5L1285.1 1712.1L1276.2 1710.6L1270.3 1704.7L1267.3 1698.8L1276.2 1703.2L1286.5 1704.7L1292.4 1692.9L1298.3 1681.1L1289.5 1678.1L1286.5 1673.7L1296.9 1672.2L1304.3 1663.4L1308.7 1654.5L1302.8 1656L1313.1 1653.1L1317.5 1660.4L1322 1650.1L1323.4 1639.8L1332.3 1644.2L1344.1 1639.8L1335.3 1628L1333.8 1620.6L1339.7 1628L1347.1 1623.5L1358.9 1625L1367.7 1626.5"/>
<path d="M1710.5 1521.7L1704.6 1518.7L1695.7 1524.6L1686.9 1529L1678 1527L1672.1 1521.7L1676.5 1514.3L1681 1506.9L1689.8 1506.3L1698.7 1509.9L1706.1 1514.3L1713.4 1515.8"/>
<path d="M1583.5 1559.5L1590.9 1564.5L1598.3 1567.4L1601.2 1561.5L1593.9 1558.6L1586.5 1555.6"/>
<path d="M2208.2 1542.3L2218.6 1555.6L2226 1568.9L2230.4 1580.7L2239.2 1595.5L2248.1 1610.2L2257 1625L2262.9 1633.9"/>
<path d="M2262.9 1783L2268.8 1772.6L2274.7 1760.8L2279.1 1752"/>
<path d="M2251.1 1790.3L2257 1787.4"/>
<path d="M2236.3 1800.7L2248.1 1794.8"/>
<path d="M2218.6 1800.7L2226 1808.1"/>
<path d="M2208.2 1811L2215.6 1806.6"/>
<path d="M2198.5 1818.4L2203.8 1815.4"/>
<path d="M2334.3 1652.2L2348.5 1654.5L2355.9 1639.8L2363.2 1644.2L2378 1640.4L2394.2 1636.2L2395.1 1640.4L2381 1645.7L2366.2 1653.1L2354.4 1660.4L2348.5 1661.9L2334.3 1652.2"/>
<path d="M2389.8 1624.4L2398.7 1620.6L2413.4 1620.6L2425.2 1628L2437.1 1635.3L2445.9 1639.8L2450.3 1650.1L2444.4 1660.4L2446.5 1672.2L2445.9 1679.6L2440 1678.1L2432.6 1673.7L2440 1666.3L2438.5 1654.5L2437.1 1642.7L2425.2 1635.3L2414.9 1626.5L2401.6 1625L2389.8 1624.4"/>
<path d="M2398.1 1735.7L2406.1 1734.8L2413.4 1740.1L2420.8 1752L2431.2 1760.8L2437.1 1772.6L2432.6 1781.5L2420.8 1788.9L2412 1781.5L2403.1 1780L2392.8 1775.6L2400.2 1772L2400.2 1760.8L2404.6 1749L2398.1 1735.7"/>
<path d="M2425.2 1791.8L2440 1785.9L2450.3 1791.8L2456.2 1802.2L2458.6 1811L2456.2 1819.9L2444.4 1822.8L2440 1811L2431.2 1800.7L2425.2 1791.8"/>
<path d="M2437.1 1735.7L2445.9 1731.3L2456.2 1732.8L2448.9 1738.7L2440 1739.6L2437.1 1735.7"/>
<path d="M2475.4 1703.2L2478.4 1692.9L2487.2 1698.8L2502 1703.2L2513.8 1710.6L2521.2 1716.5L2522.7 1731.3L2524.2 1744.6L2512.3 1735.7L2518.2 1734.2L2516.8 1719.5L2507.9 1712.1L2493.2 1706.2L2482.8 1701.8L2475.4 1703.2"/>
<path d="M2546.3 1735.7L2552.2 1732.8L2561.1 1743.1L2571.4 1754.9L2581.7 1760.8L2569.9 1766.7L2571.4 1759.3L2561.1 1750.5L2550.7 1740.1L2546.3 1735.7"/>
<path d="M2626 1752L2630.4 1749L2633.4 1754.9L2631.3 1762.3L2626.9 1760.8L2626 1752"/>
<path d="M2546.3 1805.1L2549.3 1801.6L2561.1 1806.6L2572.9 1810.4L2569.9 1814L2558.1 1811L2546.9 1808.1L2546.3 1805.1"/>
<path d="M2587 1792.7L2590.6 1791.8L2600.9 1805.1L2609.8 1819.9L2623.1 1825.8L2629.6 1836.1L2620.1 1827.2L2609.8 1825.8L2600.9 1822.8L2605.3 1816.9L2595 1805.1L2587 1792.7"/>
<path d="M2660 1828.7L2670.3 1831.7L2679.2 1833.2L2688 1828.1L2693.9 1840.5L2685.1 1855.3L2676.2 1868.6L2671.8 1868.6L2680.6 1853.8L2688 1840.5L2682.1 1836.1L2670.3 1837.6L2662.9 1834.6L2660 1828.7"/>
<path d="M2734.7 1834.6L2747.1 1832.3L2760.4 1834L2758.9 1839.1L2745.6 1837.6L2735.3 1839.9L2734.7 1834.6"/>
<path d="M2726.4 1929.1L2738.2 1920.3L2753 1918.8L2760.4 1912.9L2764.8 1907L2765.4 1917.3L2758.9 1929.1L2745.6 1935L2729.4 1938.6L2726.4 1929.1"/>
<path d="M2755.9 1892.2L2761.8 1887.8L2767.1 1891.3L2760.4 1896.6L2755.9 1892.2"/>
<path d="M2791.4 1859.7L2800.2 1860.6L2806.1 1858.2L2798.7 1864.7L2792.8 1864.2L2791.4 1859.7"/>
<path d="M2810.5 1846.4L2817.9 1845L2820.9 1850.9L2813.5 1850.9L2810.5 1846.4"/>
<path d="M2406.1 1911.4L2425.2 1906.1L2434.1 1911.4L2443 1914.3L2454.8 1920.3L2463.6 1926.2L2478.4 1927.6L2476.9 1936.5L2466.6 1933.5L2454.8 1927.6L2443 1921.7L2431.2 1915.8L2419.3 1913.8L2406.1 1911.4"/>
<path d="M2127 1929.7L2147.7 1923.2L2165.4 1917.3L2180.2 1909.9L2197.9 1906.1L2218.6 1906.1L2233.3 1904.9L2246.6 1901.1L2254 1907L2268.8 1901.1L2283.5 1897.2L2292.4 1902.5L2304.2 1903.1L2319 1901.1L2333.7 1904L2342.6 1909.9L2354.4 1918.8L2366.2 1924.7L2378 1926.2L2389.8 1923.2L2401.6 1921.7L2413.4 1924.7L2425.2 1927.6L2440 1930.6L2454.8 1935L2469.5 1939.4L2499.1 1942.1"/>
<path d="M2347 1904L2357.3 1907.8L2367.7 1911.4"/>
<path d="M2189 1942.1L2203.8 1938L2218.6 1937.4L2227.4 1942.1"/>
<path d="M1763.5 1508L1768.6 1509.4L1773.6 1510"/>
<path d="M1785.8 1507L1792.9 1505.3L1800 1504.5"/>
<path d="M1804.1 1504.9L1813.2 1503.3L1823.3 1501.9"/>
<path d="M1757.4 1521.2L1760.4 1527.3L1761.5 1535.4L1758.4 1543.5L1754.8 1546.5"/>
<path d="M1963.4 1526.2L1971.5 1526.2L1978.6 1521.2L1985.7 1517.1"/>
<path d="M2205.9 1543.5L2215 1553.6L2221.1 1565.8L2227.2 1578"/>
<path d="M1430 1585.1L1430 1588.1"/>
<path d="M1728.2 1506.9L1730 1505.9"/>
<path d="M2130.2 1634.8L2130 1654.5"/>
<path d="M2181.7 1501L2186.1 1501.1"/>
<path d="M2391.3 1060L2389.8 1060.1"/>
<path d="M2505 619L2503.5 619.1"/>
<path d="M410.9 1501L406.4 1501.1"/>
<path d="M730 1907L730 1904"/>
<path d="M317.4 177.7L318.3 181.3L321 184L323.8 188.6L323.8 188.6L321 193.1L321.5 200.3L325.6 202.1L326.5 206.6L324.7 212.9L322.9 218.4L317.4 220.2L315.6 222.9L320.1 225.6L322 231L322.9 236.4L321 240L322 245.5L323.8 251.8L321 256.3L316.5 260.8L312.9 264.4L312 268.9L310.7 274.4L309.3 279.8L307.5 286.1L303.9 290.6L299.4 291.5L294.9 293.3L291.2 297L286.7 299.2L283.1 297L278.6 294.2L274.1 292.4L278.6 288.8L281.3 285.2L285.8 283.4L289.4 286.1L293 287L296.7 283.4L298.5 278.9L297.6 272.6L298.5 268.9L302.1 265.3L305.7 261.7L307.5 256.3L308.4 252.7L306.6 253.6L302.1 256.3L295.8 258.1L290.3 261.7L284.9 265.3L279.5 268.9L275 273.5L273.6 278L276.8 279.8L281.3 278.9L285.8 278L281.3 276.2L278.6 275.3L281.3 271.7L286.7 268.9L292.1 266.2L297.6 263.5L302.1 260.8L304.8 257.2L303.9 251.8L303 246.4L303 241.8L298.5 241.4L294.9 239.1L292.1 235.5L290.3 231.9L284.9 232.8L279.5 230.1L274.1 227.4L268.7 224.7L263.2 222L257.8 218.4L254.2 214.7L250.6 211.1L245.2 206.6L239.7 202.1L236.1 197.6L234.3 203.9L230.7 211.1L228.9 218.4L228.5 225.6L230.7 231L233 236.4L233 243.7L231.6 251.8L230.3 260.8L229.8 269.9L228.9 276.2L227.1 281.6L226.2 287L230.7 283.4L234.3 287L239.7 290.6L232.5 291.5L226.2 292.4L224.8 298.8L228 303.3L231.2 307.8L229.8 310L221.9 319.7L216 327.1L219 331.5L217.5 336L207.1 367L190.9 405.3L174.7 437.8L157 473.2L142.2 488L149.6 487.4L142.2 489.5L123 514.6L123.9 532.3L115.6 550L118.6 567.7L112.7 582.5L114.1 591.3L106.8 609.1L103.8 619.1"/>
<path d="M2503.5 619.1L2496.1 615L2485.8 609.1L2491.7 595.8L2496.1 586.9L2488.7 588.4L2482.8 581L2484.3 575.1L2481.3 564.8L2484.3 555.9L2488.7 541.2L2494.6 529.3L2491.7 523.4L2497.6 513.1L2507.9 508.7L2510.9 499.8L2516.8 498.3L2525.6 495.4L2530.1 485.1L2534.5 476.2L2538.9 465.9L2531.5 462.9L2536 452.6L2543.3 461.4L2549.3 449.6L2555.2 454.1L2562.5 445.2L2569.9 446.7L2572.9 434.9L2580.3 437.8L2586.2 429L2596.5 423.1L2602.4 411.2L2598 402.4L2590.6 395L2590.6 395L2602.4 392.1L2614.2 386.1L2627.5 372.9L2629 364L2637.8 361.1L2649.6 346.3L2661.4 334.5L2673.3 322.7L2682.1 312.3L2673.3 309.4L2685.1 307.9L2691 307.9L2685.1 319.7L2679.2 337.4L2676.2 347.8L2691 343.3L2708.7 334.5L2735.3 322.7L2720.5 328.6L2708.7 343.3L2713.1 353.7L2698.3 340.4L2691 349.2L2679.2 367L2667.3 384.7L2658.5 396.5L2652.6 408.3L2643.7 423.1L2643.7 431.9L2651.1 414.2L2652.6 434.9L2658.5 449.6L2673.3 458.5L2683.6 463.8L2696.9 460L2698.3 449.6L2705.7 440.8L2716.1 426L2720.5 405.3L2723.4 384.7L2738.2 372.9L2750 361.1L2761.8 352.2L2779.5 337.4L2797.3 319.7L2812 305L2822.4 297.6"/>
<path d="M103.8 619L97.9 630.8L87.6 641.1L78.7 651.5L75.8 666.2L81.7 681L87.6 695.8L86.1 710.5L80.2 725.3L78.7 743L74.3 753.3L81.7 769.6L89 784.3L92.9 791.7L93.5 802.1L89 810.9L87.6 818.3L96.4 825.7L105.3 836L105.3 836L102.3 846.3L100.9 858.1L99.4 872.9L103.8 884.7L115.6 895.1L120.1 903.9L115.6 912.8L108.2 920.2L106.2 932L111.2 943.8L115.6 958.5L121.5 973.3L127.4 985.1L134.8 999.9L133.3 1011.7L140.7 1022L136.3 1035.3L134.8 1047.1L131.9 1056L134.8 1060.1"/>
<path d="M2389.8 1060.1L2378 1044.2L2366.2 1026.4L2357.3 1011.7L2350 999.9L2348.5 994L2347 979.2L2354.4 958.5L2358.8 943.8L2363.2 929L2366.2 914.2L2369.1 899.5L2367.7 884.7L2363.2 875.9L2354.4 864.1L2345.5 852.2L2338.1 840.4L2330.8 831.6L2327.2 822.7L2330.8 813.9L2336.7 808L2344.1 799.1L2348.5 796.1L2336.7 810.9L2333.7 825.7L2336.7 837.5L2348.5 843.4L2360.3 847.8L2366.2 849.3L2367.7 861.1L2375.1 846.3L2381 831.6L2383.9 819.8L2389.8 808L2392.8 796.1L2389.8 778.4L2389.8 763.7L2383.9 757.8L2375.1 760.7L2372.1 754.8L2378 746L2381 731.2L2379.5 716.4L2373.6 712L2382.4 725.3L2383.9 743L2389.8 735.6L2395.7 728.2L2410.5 720.9L2425.2 716.4L2443 713.5L2451.8 697.2L2451.8 697.2L2469.5 697.2L2454.8 710.5L2443 720.9L2425.2 732.7L2410.5 740.1L2386.9 751.9L2386.9 751.9L2389.8 737.1L2392.8 722.3L2406.1 709.1L2419.3 697.2L2434.1 692.8L2447.4 688.4L2460.7 682.5L2475.4 676.6L2481.3 669.2L2479.9 651.5L2488.7 648.5L2490.2 660.3L2499.1 657.4L2506.4 650L2513.8 642.6L2516.8 650L2525.6 645.6L2534.5 641.1L2543.3 633.8L2540.4 622L2534.5 619L2528.6 619L2531.5 633.8L2522.7 636.7L2510.9 627.9L2505 619"/>
<path d="M134.8 1060L140.7 1064.4L154 1068.9L168.8 1077.7L177.6 1080.7L186.5 1088L192.4 1095.4L193.9 1101.3L201.2 1107.2L210.1 1113.1L220.4 1116.1L226.3 1120.5L228.4 1130.9L224.9 1138.2L230.8 1141.2L235.2 1139.1L241.1 1144.1L248.5 1154.5L255.9 1163.3L263.2 1175.1L267.7 1184L269.7 1195.8L268.6 1207.6L266.2 1218L270.6 1220.9L270.6 1228.3L269.7 1240.1L274.5 1251.9L275.1 1263.7L279.5 1271.1L284.5 1278.5L276.5 1282.9L281 1285.9L278 1294.7L281 1302.1L285.4 1311L289.2 1321.3L286.9 1333.1L292.8 1340.5L297.2 1347.9L295.1 1361.2L292.8 1371.5L300.2 1378.9L301 1387.7L297.2 1402.5L299.3 1405.4L300.2 1415.8L307.5 1424.6L314.9 1433.5L322.3 1443.8L331.2 1449.7L337.1 1460.1L344.4 1473.3L351.8 1486.6L359.2 1501.1"/>
<path d="M372.5 1296.2L375.4 1311L369.5 1325.7L363.6 1342L366.6 1358.2L366.6 1375.9L365.1 1387.7L360.7 1404L363.6 1414.3L369.5 1427.6L378.4 1437.9L384.3 1449.7L394.6 1464.5L400.5 1479.3L405 1488.1L406.4 1501.1"/>
<path d="M372.5 1296.2L384.3 1306.5L396.1 1319.8L406.4 1329.3L413.8 1330.2L419.1 1324.2L427.1 1330.2L433 1337.5L431.5 1344.9L443.3 1352.3L452.2 1356.7L460.5 1362.6L459.6 1368.5L455.2 1370L452.2 1387.7L455.2 1402.5L459.6 1420.2L461.1 1440.9L465.5 1455.6L471.4 1473.3L471.4 1485.2L478.8 1494L478.8 1501.1"/>
<path d="M2186.1 1501.1L2177.2 1485.2L2169.9 1470.4L2162.5 1452.7L2156.6 1440.9L2150.7 1427.6L2147.7 1414.3L2147.7 1402.5L2152.1 1393.6L2149.2 1387.7L2155.1 1378.9L2153.6 1367.1L2158 1355.2L2164 1347.9L2166.9 1337.5L2174.3 1328.7L2168.4 1319.8L2175.8 1321.3L2183.1 1319.8L2178.7 1311L2189 1308L2197.9 1300.6L2208.2 1294.7L2209.7 1285.9L2218.6 1280L2223 1271.1L2231.9 1266.7L2239.2 1256.3L2236.3 1246L2240.7 1240.1L2243.7 1229.8L2251.1 1218L2259.9 1207.6L2268.8 1201.7L2280.6 1198.8L2292.4 1195.8L2290.9 1182.5L2296.8 1189.9L2295.3 1178.1L2301.2 1169.2L2310.1 1157.4L2314.5 1151.5L2311.6 1142.7L2319 1145.6L2324.9 1139.7L2336.7 1136.2L2347 1132.3L2355.9 1136.8L2363.2 1119L2366.2 1114.6"/>
<path d="M359.2 1501L365.1 1508.4L368.1 1518.7L363.6 1529L356.2 1540.9L347.4 1548.2L335.6 1551.8L328.2 1551.2L317.9 1546.8L304.6 1542.3L304.6 1549.7L313.4 1560L320.8 1570.4L326.7 1577.8L326.7 1586.6L334.1 1594L343 1598.4L348.9 1608.8L357.7 1613.2L362.2 1622.1L366.6 1629.4L378.4 1628L388.7 1629.4L396.1 1622.1L396.1 1638.3L400.5 1648.6L407.9 1659L415.3 1667.8L428.6 1678.1L433 1690L437.4 1704.7L436.8 1716.5L438.9 1725.4L434.5 1737.2L430.1 1749L427.1 1760.8L430.1 1769.7L438.9 1781.5L440.4 1787.4L447.8 1788.9L455.2 1799.2L467 1811L478.8 1822.8L487.6 1836.1L496.5 1846.4L503.9 1858.2L514.2 1867.1L518.6 1878.9L521.6 1887.8L521.6 1901.1L523.7 1909.9L529 1915.8L539.3 1914.3L549.6 1908.4L560 1902.5L565.9 1889.2L566.8 1881.9L561.4 1873L554.1 1868.6L553.2 1859.7L548.2 1846.4L542.3 1836.1L531.9 1824.3L526 1818.4L521.6 1822.8L521.6 1830.2L517.2 1833.2L514.2 1827.2L508.3 1824.3L502.4 1811L501.8 1796.2L506.8 1784.4L508.3 1775.6L505.3 1766.7L499.4 1756.4L496.5 1735.7L490.6 1731.3L486.2 1718L484.7 1707.7L487.6 1695.9L484.7 1669.3L481.7 1656L472.9 1644.2L468.4 1642.7L464 1647.1L459.6 1636.8L462.5 1628L452.2 1617.6L449.3 1598.4L438.9 1585.1L431.5 1571.9L430.1 1564.5L433 1554.1L430.9 1545.3L432.1 1535L422.7 1529L419.7 1515.8L418.2 1505.4L412.3 1504L410.9 1501"/>
<path d="M478.8 1501L481.7 1509.9L487.6 1520.2L490.6 1533.5L496.5 1543.8L506.8 1552.7L512.7 1567.4L518.6 1579.2L530.4 1588.1L540.8 1588.1L554.1 1594.9L546.7 1605.8L545.2 1619.1L549.6 1630.9L558.5 1641.2L568.8 1647.1L578.6 1650.1L579.2 1663.4L583.6 1675.2L598.3 1678.1L605.7 1687L610.2 1695.9L611 1704.7L614.6 1710.6L607.2 1707.7L599.8 1713.6L593.9 1721L592.4 1740.1L596.9 1749L604.3 1753.4L616.1 1749L622 1745.5L616.1 1754.9L608.7 1760.2L617.5 1759.3L624.9 1759.3L626.4 1766.7L633.8 1772.6L644.1 1781.5L651.5 1787.4L663.3 1794.8L658.9 1799.2L650 1793.3L654.4 1802.2L661.8 1814L661.8 1822.8L669.2 1830.2L679.5 1834.6L689.9 1837.6L689.9 1845L673.6 1834.6L684 1845L697.3 1858.2L712 1873L720.9 1887.8L730 1907"/>
<path d="M1261.4 1942.1L1262.9 1926.2L1264.4 1908.4L1267.9 1887.8L1273.3 1867.1L1279.2 1849.4L1285.1 1834.6L1292.4 1819.9L1298.3 1805.1L1300.4 1791.8L1298.3 1781.5L1295.4 1766.7L1292.4 1752L1289.5 1737.2L1288 1719.5L1289.5 1707.7L1293.9 1695.9L1299.8 1685.5L1307.2 1675.2L1316.1 1664.9L1323.4 1656L1335.3 1648.6L1345.6 1642.7L1355.9 1635.3L1367.7 1629.4L1379.5 1622.1L1394.3 1614.7L1409.1 1604.3L1420.9 1592.5L1430 1585.1"/>
<path d="M730 1904L735.9 1912.9L741.8 1927.6L752.1 1942.1"/>
<path d="M1430 1588.1L1438.9 1577.8L1452.1 1568.9L1468.4 1561.5L1481.7 1557.1L1487.6 1554.1L1500.9 1551.8L1517.1 1550.6L1530.4 1554.1L1543.7 1560L1557 1562.4L1573.2 1563.6L1583.5 1559.5L1580.6 1554.1L1586.5 1548.2L1593.9 1545.3L1598.3 1549.7L1605.7 1550.6L1611.6 1557.1L1619 1563L1627.8 1561.5L1630.8 1568.9L1635.2 1574.8L1626.3 1579.2L1639.6 1580.7L1650 1583.7L1658.8 1586.6L1663.2 1583.7L1666.2 1577.8L1672.1 1574.2L1678 1574.8L1682.4 1579.2L1685.4 1585.1L1688.3 1587.2L1692.8 1583.7L1695.7 1574.8L1695.7 1564.5L1689.8 1559.5L1698.7 1561.5L1707.5 1566L1713.4 1570.4L1722.3 1571.9L1729.7 1574.8L1734.1 1582.2L1735.6 1589.6L1740 1585.1L1745.9 1588.1L1750.3 1580.7L1754.8 1577.2L1748.9 1571.9L1744.4 1567.4L1737.1 1565.4L1728.2 1563L1720.8 1558.6L1714.9 1552.7L1717.9 1546.8L1725.2 1542.3L1731.2 1536.4L1729.7 1529L1725.2 1526.1L1731.2 1523.1L1738.5 1518.7L1737.1 1515.8L1728.2 1521.7L1720.8 1524.6L1717.9 1532L1710.5 1530.5L1706.1 1526.1L1710.5 1521.7L1710.5 1521.7L1713.4 1515.8L1720.8 1511.3L1728.2 1506.9"/>
<path d="M2130 1654.5L2135.9 1661.9L2141.8 1670.8L2150.7 1676.7L2152.1 1669.3L2161 1667.8L2159.5 1678.1L2161 1690L2155.1 1695.9L2159.5 1701.8L2165.4 1698.8L2169.9 1688.5L2174.3 1682.6L2171.3 1692.9L2174.3 1698.8L2178.7 1707.7L2183.1 1716.5L2190.5 1725.4L2199.4 1729.8L2211.2 1731.3L2214.1 1737.2L2218.6 1744.6L2224.5 1752L2230.4 1759.3L2234.8 1762.3L2240.7 1762.3L2239.2 1766.7L2233.3 1765.2L2228.9 1766.7L2231.9 1772.6L2240.7 1771.2L2248.1 1768.2L2255.5 1766.1L2262.9 1760.8L2270.2 1754.9L2274.7 1746.1L2274.7 1734.2L2277.6 1722.4L2281.2 1710.6L2280.6 1695.9L2279.1 1681.1L2277 1666.3L2273.2 1654.5L2268.8 1642.7L2262.9 1632.4L2255.5 1620.6L2248.1 1608.8L2240.7 1597L2233.3 1585.1L2226 1571.9L2224.5 1564.5L2227.4 1557.1L2218.6 1548.2L2208.2 1542.3L2214.1 1552.7L2206.8 1543.8L2199.4 1530.5L2190.5 1515.8L2181.7 1501"/>
<path d="M1730 1505.9L1738.1 1503.9L1746.2 1500.9L1754.4 1498.4L1762.5 1499.9L1770.6 1499.3L1780.7 1498.4L1792.9 1497.8L1795.9 1488.7L1798 1479.6L1801 1477.5L1804.1 1480.6L1806.1 1489.7L1810.2 1493.8L1814.2 1497.8L1817.3 1500.9L1824.4 1501.9L1829.4 1498.8L1831.5 1493.8L1836.5 1491.7L1841.6 1488.7L1845.7 1485.7L1847.7 1481.6L1851.8 1483.6L1855.8 1479.6L1857.8 1483.6L1855.8 1489.7L1849.7 1492.8L1861.9 1490.7L1872 1488.3L1880.2 1483.6L1888.3 1480.6L1896.4 1479.6L1903.5 1482.6L1892.3 1485.7L1886.2 1487.1L1898.4 1488.7L1908.6 1491.7L1918.7 1495.2L1925.8 1497.8L1925.8 1491.7L1929.9 1488.7L1933.9 1488.3L1931.9 1493.8L1933.9 1497.8L1929.9 1499.9L1935 1502.9L1941 1507L1947.1 1511L1952.2 1514.1L1948.1 1517.1L1947.1 1521.2L1950.2 1524.2L1955.2 1522.2L1965.4 1519.1L1973.5 1516.1L1979.6 1514.7L1985.7 1511L1991.8 1507L1997.9 1504.5L2002.9 1503.3L2001.9 1497.8L2002.9 1493.8L2008 1490.7L2014.1 1489.1L2019.2 1487.7L2026.3 1490.3L2034.4 1493.2L2040.5 1495.8L2045.5 1500.9L2052.6 1508L2059.7 1515.1L2066.9 1521.2L2072.9 1525.2L2079 1529.3L2087.1 1534.4L2095.3 1539.4L2101.3 1544.5L2106.4 1550.6L2108.4 1559.7L2109.5 1569.9L2110.5 1578L2109.5 1588.1L2108.4 1598.3L2107.4 1608.4L2107 1620L2108.7 1626.7L2112.5 1630.7L2115.6 1622.6L2112.5 1616.5L2119.6 1614.5L2127.7 1617.6L2130.8 1622.6L2130.2 1634.8"/>
</g>
<g class="bord">
<path d="M320.8 189.8L363.6 206L415.3 223.8L466.1 240L533.4 257.7L541.4 260.1L579.7 271.9L654.4 288.7L730 305.5"/>
<path d="M236.7 191.3L281 223.8L294.2 222.3L304.6 188.3L313.4 183.9L320.8 189.8"/>
<path d="M730 304.4L817.1 321.8L924.9 341L1053.3 356.6L1160.5 365.8L1326.4 373.5L1409.1 373.7"/>
<path d="M1409.1 373.7L1409.1 348.7L1420.9 352.8L1423.8 367L1430 384.7"/>
<path d="M1430 388.2L1447.7 392.1L1462.5 398L1468.4 401.8L1478.7 398L1489 395.6L1503.8 399.4L1515.6 406.8L1521.5 414.2L1530.4 412.7L1542.2 417.1L1554 425.4L1562.9 426L1571.7 420.7L1580.6 416.6L1589.4 421.6L1607.1 421.6L1616 420.1L1624.9 426L1633.7 428.4L1642.6 425.4L1650 423.6"/>
<path d="M2282.1 501.3L2336.7 485.1L2413.4 463.8L2417.9 445.2L2426.7 443.1L2437.1 434.9L2440 423.1L2438.5 414.2L2447.4 396.5L2443 372.9L2445.9 352.2L2444.4 331.5L2451.8 310.9L2459.2 290.2L2468.1 290.2L2472.5 299.1L2478.4 301.4L2488.7 294.6L2499.1 284.3L2507.9 284.9L2522.7 291.7L2530.1 305L2534.5 319.7L2541.9 337.4L2549.3 358.1L2552.2 369.9L2565.5 371.4L2569.9 381.7L2575.8 392.1L2581.7 396.5L2590.6 395"/>
</g>
<g class="st" style="stroke-dasharray:4.17 6.88">
<path d="M1851.2 524.4L1839.9 528.1L1830.6 523.4L1819.3 522.5L1811.8 529L1802.5 533.7L1793.1 534.7L1783.7 540.3L1772.5 543.1L1756.5 542.2L1754.7 552.5L1748.1 561.8L1743.4 571.2L1738.7 581.5"/>
<path d="M1746.2 618.1L1743.4 629.3L1742.5 640.6L1743.4 649.9L1738.7 660.2L1736.9 671.5L1737.8 681.8L1735.9 692.1L1732.2 703.3L1733.1 713.6L1736.9 723L1740.6 734.3L1740.6 745.5L1741.6 753L1742.5 763.3L1745.3 771.7L1748.1 780"/>
<path d="M1743 636.7L1738.5 657.4L1735.6 678L1734.1 701.7L1737.1 719.4L1740 737.1L1741.5 754.8L1743 766.6L1748.9 778.4L1754.8 790.2L1762.2 799.1L1769.5 802.1L1778.4 799.1L1787.2 791.7L1796.1 784.3L1802 772.5L1807.9 757.8L1810.9 740.1L1810.9 719.4L1805 704.6L1796.1 689.9L1791.7 678L1790.2 651.5L1794.6 636.7"/>
<path d="M1798.7 780L1802.5 770.8L1807.1 760.5L1810 751.1L1810.9 739.9L1810.9 728.6L1809.6 717.4L1805.3 707.1L1800.6 696.8L1795 687.4L1790.3 677.1L1793.1 666.8L1790.3 655.5L1790.3 646.2L1795 636.8L1797.8 626.5L1795.9 614.3L1800.6 607.8L1803.4 597.5L1811.8 592.8L1821.2 591.8L1827.8 597.5L1822.1 603.1L1824.9 593.7L1830.6 588.1L1829.6 578.7L1832.4 569.3L1841.8 564.7L1842.8 560L1839.9 554.3L1839.9 546.9L1841.8 540.3L1847.4 534.7L1851.2 533.7"/>
<path d="M1851.2 533.7L1862.4 538.4L1873.7 544L1883 550.6L1892.4 554.3L1902.7 556.2L1913 560.9L1917.7 570.3L1914.9 574L1917.7 582.5L1921.5 591.8L1923.3 603.1L1924.3 613.4L1919.6 621.8L1915.8 631.2L1914.9 634.9L1910.2 639.6L1902.7 648.1L1903.7 658.4L1914 662.1L1921.5 655.5L1926.1 648.1L1929.9 639.6L1938.3 634L1948.6 632.1L1957.1 639.6L1961.8 649.9L1965.5 659.3L1969.3 670.5L1973 680.8L1976.7 684.6"/>
<path d="M1977.7 684.6L1986.1 685.5L1992.7 677.1L2000.2 668.7L2003.9 658.4L2003 648.1L2000.2 636.8L1997.4 625.6L1998.3 612.4L2001.1 603.1L2006.7 595.6L2009.5 586.2L2008.6 575L2004.9 565.6L1999.2 558.1L1991.7 552.5L1984.2 553.4L1994.6 549.7L2003 549.7L2004.9 560L2011.4 565.6L2019.9 564.7L2022.7 571.2L2025.5 582.5L2032 575.9L2040.5 579.6L2051.7 582.5L2063 583.4L2064.8 574L2063 565.6L2056.4 565.6L2066.7 560L2075.1 565.6L2073.3 558.1L2068.6 555.3L2063 546.9L2057.3 539.4L2052.6 535.6L2049.8 529L2042.3 531.9L2034.8 522.5L2027.3 515L2019.9 506.6L2010.5 503.7L2001.1 501.9L1991.7 502.8L1982.4 500"/>
<path d="M1954.3 754.9L1959.9 755.8L1969.3 753.9L1978.6 752.1L1982.4 747.4L1988 741.8L1996.4 736.1L2004.9 732.4L2009.5 728.6L2012.4 721.1L2018 713.6L2023.6 706.1L2033 702.4L2044.2 701.5L2055.5 701.5L2066.7 701.5L2070.4 696.8L2076.1 687.4L2085.4 681.8L2096.7 678L2107.9 674.3L2119.2 671.5L2130.4 669.6L2135.1 670.5"/>
<path d="M2136 672.4L2132.3 679.9L2124.8 689.3L2117.3 696.8L2109.8 706.1L2100.4 715.5L2092.9 723L2085.4 728.6L2070.4 738L2059.2 743.6L2049.8 751.1L2036.7 762.4L2027.3 771.7L2032.3 766.6L2016.1 777L1999.8 782.9L1985.1 788.8L1967.3 785.8L1949.6 778.4L1951.1 760.7L1955.5 737.1"/>
<path d="M2251.9 530L2247.6 537.2L2243.2 544.5L2237.4 550.2L2231.7 554.6L2225.9 558.9L2220.1 561.8L2212.9 566.1L2207.1 569L2199.9 571.9L2196.2 577.7L2191.2 573.4L2186.8 579.1L2191.2 584.9L2184 587.8L2179.6 583.5L2175.3 587.8L2165.2 592.2L2155 596.5L2144.9 600.8L2134.8 604.4L2124.7 608.8L2114.6 613.8L2105.9 622.5L2097.2 631.2L2092.2 639.9L2090 648.5"/>
<path d="M2090 650L2095.8 654.3L2105.9 654.3L2114.6 650L2118.9 644.2L2123.2 644.2L2133.4 640.6L2143.5 636.2L2153.6 633.4L2165.2 631.9L2175.3 631.2L2185.4 633.4L2196.2 629.7L2207.1 628.3L2215.8 624L2223 618.2L2230.9 608.8L2240.3 603.7L2240.3 593.6L2237.4 587.8L2231.7 584.9L2236 579.1L2238.9 574.8L2228.8 573.4L2225.2 564.7L2232.4 555.3L2240.3 548.8L2246.1 538.7L2252.6 530"/>
<path d="M2136.3 671.7L2129 681.8L2123.2 690.5L2116 697.7L2108.8 706.4L2101.6 715L2094.3 722.3L2090 725.1"/>
<path d="M2090 676L2098.7 672.4L2108.8 669.5L2118.9 666.6L2127.6 668.8L2136.3 671.7"/>
<path d="M1539 510.7L1546.3 497.6L1555.1 488.8L1562.4 481.5L1569.7 473.5L1577 465.4L1584.3 457.4L1593.1 450.1L1602.6 445L1612.8 440.6L1622.3 435.5L1631.8 429.6L1639.8 425.2L1645.7 417.2L1648.6 407L1650.8 396.8L1660.3 390.9L1666.1 391.6L1672 388.7L1675.6 379.2L1679.3 369.7L1685.1 361.7L1695.3 360.2L1696.8 367.5L1692.4 371.2L1698.3 374.8L1707 363.9L1707.8 372.6L1715.8 367.5L1727.5 369.7L1737.7 368.3L1747.9 365.3L1758.9 367.5L1765.5 374.8L1769.9 385.1L1774.2 395.3L1780.8 404.8L1789.6 411.4L1799.8 413.6L1810.8 411.4L1821.7 409.2L1830.5 411.4L1826.8 421.6L1827.6 431.8L1836.3 437.7L1845.1 445L1842.2 455.2L1840.7 465.4L1850.2 467.6L1859 471.3L1853.1 477.1L1856.1 480L1851.7 490.3L1860.4 492.5L1869.2 488.8L1875.1 496.1L1856.1 494.9L1847.3 496.1L1836.3 496.8L1833.4 488.8L1832.7 480L1822.5 483L1811.5 487.3L1800.5 488.8L1790.3 491L1780.1 496.1L1772 502.7L1764 507.1L1753.8 507.1L1743.6 507.1L1734.8 503.4L1728.2 496.1L1720.2 488.1L1709.9 485.9L1698.3 484.4L1691.7 493.9L1688 486.6L1686.6 478.6L1693.1 476.4L1695.3 466.9L1705.6 459.6L1715.8 453L1712.9 450.8L1703.4 450.8L1693.1 455.9L1685.1 463.2L1678.5 469.8L1671.2 477.1L1663.2 483.7L1654.4 491L1644.9 495.4L1634.7 498.3L1625.9 504.1L1616.4 510.7L1610.6 515.8L1602.6 512.9L1594.5 509.3L1596 500.5L1601.1 493.9L1606.2 487.3L1590.1 491.7L1581.4 496.1L1571.9 499.8L1562.4 505.6L1551.4 509.3L1541.9 510.7L1539 510.7"/>
<path d="M1639.8 425.2L1651.5 420.1L1666.1 411.4L1686.6 404.1L1697.5 409.2L1717.3 418.7L1737.7 428.2L1758.2 437.7L1778.6 446.4L1797.6 455.2L1818.1 464L1828.3 468.4L1838.5 474.2L1842.9 483.7L1847.3 492.5L1856.1 496.1L1867.7 497.6L1876.5 504.9"/>
<path d="M1907.4 518.7L1916.8 535.6L1933.6 544L1946.8 549.7L1951.4 559L1954.3 570.3L1958 580.6L1961.8 591.8L1965.5 602.1L1969.3 612.4L1973 622.8L1976.7 633.1L1979.6 643.4L1982.4 653.7L1982.4 664L1979.6 674.3L1977.7 684.6L1976.7 696.8L1975.8 706.1L1973.9 717.4L1971.1 726.8L1961.8 732.4L1956.1 736.1L1953.3 743.6L1954.3 751.1L1954.3 756.7L1963.6 766.1L1976.7 769.9"/>
<path d="M1976.7 769.9L1989.9 770.8L2001.1 762.4L2014.2 750.2L2031.1 734.3L2040.5 727.7L2051.7 723L2063 717.4L2072.3 711.8L2081.7 706.1L2092.9 698.7L2102.3 691.2L2113.6 683.7L2122.9 678L2132.3 672.4"/>
<path d="M1756.4 542.5L1753.2 552.1L1747.8 561.8L1743.6 573.6L1738.2 582.1L1730.7 590.7L1724.3 601.4L1721.1 611L1718.9 621.8L1723.2 628.2L1725.3 621.8L1730.7 612.1L1736.1 608.9L1744.6 608.9"/>
<path d="M1763.9 571.4L1760.7 573.6L1758.6 580L1753.2 586.4L1747.8 596L1744.6 608.9L1745.7 619.6L1743.6 629.3L1742.5 641L1741.4 659.2L1737.1 680"/>
<path d="M1846.4 533.9L1830.3 524.3L1819.6 523.2L1812.1 529.6L1801.4 533.9L1792.8 535L1784.3 540.9L1777.8 548.9L1772.5 549.5L1763.9 548.4L1756.4 542.5"/>
<path d="M1867 495.4L1884.7 502.8L1914.2 502.8L1946.7 500.4L1982.1 499.8"/>
<path d="M1867 495.4L1872.9 511.6L1864 520.5L1852.2 530.8"/>
<path d="M2117.5 634.1L2126.1 628.3L2136.3 622.5L2146.4 619.6L2157.9 617.5L2168.1 615.3L2179.6 613.1L2189.7 610.2L2200.6 608.1L2211.4 605.2L2215.8 596.5L2218.6 586.4L2220.8 573.4L2225.2 564.7L2232.4 555.3L2240.3 548.8L2246.8 538.7L2252.6 530"/>
<path d="M2136.3 671.7L2131.9 665.9L2127.6 660.1L2124 652.9L2121.8 645.6L2117.5 634.1"/>
</g>
<g class="st">
<path d="M250 346.3L255.9 352.2L257.9 367L256.7 381.7L263.2 386.1L279.5 393.5L289.8 391.2L304.6 395L317.9 404.7L337.1 406.8L357.7 410.4L372.5 408.3L393.2 409.2L405 412.1L413.8 411.2L498.6 435.5"/>
<path d="M541.4 260.1L499.4 414.2L500 435.5L502.4 443.7L509.8 454.1L508.3 464.4L495 482.1L481.7 499.8L467 514.6L460.5 523.4L461.7 533.8L469.9 541.7L464 554.4L456.6 564.8L449.3 591.3L444.8 619.1"/>
<path d="M579.7 271.9L573.3 296.1L565.9 327.1L571.8 343.3L573.3 364L582.1 380.2L591 398L598.3 414.2L614 425.4L605.7 443.7L601.3 461.4L598.3 471.8L589.5 483.6L595.4 491.8L605.7 491L614.6 485.1L620.5 492.4L622 511.6L626.4 526.4L629.4 544.1L638.2 550L639.7 564.8L642.6 570.7L650 567.7L661.8 570.1L670.7 568.3L691.4 573L703.2 575.1L707.6 567.7L715 568.3L719.4 578.1"/>
<path d="M728.3 554.4L719.4 578.1L716.4 619.1"/>
<path d="M118.6 568.3L139.2 576L168.8 586.9L213.1 602.3L266.2 619.1"/>
<path d="M633.8 181.5L645.6 189.8L648.5 207.5L647.1 225.2L641.2 247.4L645.6 263.6L653 275.4L657.4 288.7"/>
<path d="M1408.5 180.4L1409.1 348.7"/>
<path d="M843.7 180.4L817.1 321.8"/>
<path d="M1163.4 180.4L1160.5 365.8"/>
<path d="M1053.3 356.6L1048.3 414.2L1043 461.4L1035.6 539.7L1028.2 597.3L1025.2 619.1"/>
<path d="M1035.6 539.7L1143.3 550.6L1261.4 557.4L1350 559.5"/>
<path d="M730 553.6L818.6 568.3L907.1 581.9L1028.2 597.3"/>
<path d="M1326.4 373.5L1329.4 390.6L1328.8 414.2L1329.4 429L1333.8 443.7L1339.7 458.5L1340.6 473.2L1341.2 488L1339.7 511.6L1344.1 526.4L1348.5 536.7L1351.5 547.1L1350 559.5L1345.6 570.7L1337.6 578.1L1341.2 588.4L1354.4 597.3L1354.4 619.1"/>
<path d="M2008.7 201.6L2016.1 237L2023.4 272.5L2032.3 310.9L2039.7 343.3L2047.1 384.7L2050 402.4L2058.9 420.1L2073.6 437.8L2086.9 452.6L2097.3 460L2130 462"/>
<path d="M1539.2 502.8L1531.9 513.1L1530.4 547.1L1518.6 555.9L1508.2 564.8L1505.3 576.6L1514.1 585.4L1514.1 603.2L1512.1 619.1"/>
<path d="M1614.5 514.6L1624.9 527.9L1642.6 532.3L1666.2 536.7L1678 542.6L1695.7 543.2L1707.5 547.1L1720.8 558.9L1725.2 573.6L1731.2 585.4L1735.6 597.3L1743 603.2"/>
<path d="M1655.9 432.6L1664.7 426L1673.4 418.7L1680.7 412.1L1674.9 414.3L1666.1 420.1L1658.1 427.4L1655.9 432.6"/>
<path d="M1787.4 428.2L1791.8 423.1L1798.3 424.5L1796.2 427.4L1787.4 428.2"/>
<path d="M2488.7 294.6L2491.7 278.4L2487.2 263.6L2485.8 250.3L2499.1 243L2512.3 238.5L2522.7 242.4L2534.5 235.6L2543.3 226.7"/>
<path d="M2338.1 485.6L2341.1 496.9L2347 511.6L2351.4 526.4L2351.4 541.2L2355.9 553L2360.3 567.7L2366.2 567.7L2370.6 579.5L2373.6 597.3L2378 612L2380.4 619.1"/>
<path d="M2414.9 463.8L2414.9 476.2L2420.8 488L2417.9 498.3L2406.1 508.7L2407.5 526.4L2406.1 550L2406.1 570.7L2409 591.3L2410.5 604.6"/>
<path d="M2426.7 443.7L2431.2 452.6L2437.1 473.2L2448.9 502.8L2457.7 523.4L2465.1 544.1L2472.5 554.4L2479.9 558.9"/>
<path d="M2380.4 617.9L2410.5 604.6L2443 598.7L2463.6 594.3L2472.5 584L2479.9 577.2"/>
<path d="M2130 462L2147.7 463.8L2162.5 473.2L2174.3 477.7L2181.7 471.8L2193.5 485.1L2203.8 489.5L2221.5 488L2236.3 482.1L2254 471.8L2268.8 464.4L2277.6 462.9L2286.5 464.4L2287.4 482.1L2282.1 501.3"/>
<path d="M263.2 619L297.2 630.8L427.1 667.7L561.4 703.7L692.8 730.6"/>
<path d="M444.8 619L427.1 667.7"/>
<path d="M297.2 630.8L244.1 805L399.1 1060.1"/>
<path d="M561.4 703.7L492.1 1001.3L481.7 1044.2L472.9 1054.5L467 1055.4L458.1 1045.6L449.3 1045.6L443.3 1053L441.9 1060.1"/>
<path d="M492.1 1001.3L620.5 1027.9L730 1047.7"/>
<path d="M716.4 619L692.8 730.6L682.5 791.7L730 800.6"/>
<path d="M771.3 808L730.6 1047.7"/>
<path d="M730 799.7L771.3 808L1001.6 839.8L1093.2 848.7"/>
<path d="M1026.7 619L1015.8 719.4L1001.6 839.8"/>
<path d="M1015.8 719.4L1143.3 729.7L1261.4 736.5L1270.3 741.5L1279.2 747.4L1286.5 748.9L1295.4 745.4L1308.7 745.4L1317.5 748.9L1326.4 754.8L1338.2 759.2L1347.1 766.6"/>
<path d="M1093.2 848.7L1089.6 909.8L1078.4 1060.1"/>
<path d="M1089.6 909.8L1202.4 916.6L1320.5 920.7L1400.2 921.6"/>
<path d="M1354.4 619L1353 707.6L1347.1 713.5L1350 720.9L1353 731.2L1348.5 746L1344.1 757.8L1347.1 766.6"/>
<path d="M1353 708.2L1430 708.2"/>
<path d="M1347.1 766.6L1354.4 772.5L1355.9 784.3L1364.8 799.1L1367.7 813.9L1369.2 827.1L1376.6 834.5L1379.5 852.2L1381 872.9L1379.5 880.3L1386.9 893.6L1388.4 902.4L1395.8 908.3L1400.2 921.6L1412 929L1422.4 932L1423.8 937.9L1417.9 943.8L1416.4 952.6L1422.4 961.5L1430 970.3"/>
<path d="M1384 884.7L1430 884.7"/>
<path d="M730 1047.7L809.7 1060.1"/>
<path d="M1430 708.2L1580.6 704"/>
<path d="M1512.7 622L1515.6 632.3L1527.4 641.1L1543.7 650L1554 661.8L1564.3 667.7L1577.6 675.1L1581.2 686.9L1582.1 704L1589.4 715L1589.4 731.2L1593.9 746L1607.1 753.3L1614.5 762.2L1624.9 772.5L1633.7 781.4L1638.1 790.2L1636.7 802.1L1627.8 819.8L1607.1 828.6L1598.3 836L1602.7 846.3L1605.7 853.7L1599.8 870L1590.9 880.3L1583.5 892.1L1582.1 908.3L1586.5 926.1L1595.3 936.4L1607.1 946.7L1619 958.5L1624.9 973.3L1632.2 980.7L1642.6 979.2L1651.4 986.6L1647 1002.8L1642.6 1019.1L1650 1029.4L1663.2 1038.3L1678 1047.1L1686.9 1056L1688.3 1060.1"/>
<path d="M1614.5 762.2L1743 753.3"/>
<path d="M1430 884.7L1518.6 881.2L1568.8 879.4L1577.6 887.7L1583.5 892.1"/>
<path d="M1759.2 799.1L1760.7 825.7L1765.1 870L1769.5 914.2L1772.5 937.9L1768.1 952.6L1774 965.9L1776.9 976.2L1772.5 994L1763.6 1005.8L1757.7 1014.6L1756.2 1032.3L1757.7 1041.2L1753.3 1060.1"/>
<path d="M1793.2 793.2L1881.7 781.4L1946.7 774"/>
<path d="M1881.7 781.4L1886.2 825.7L1893.5 884.7L1902.4 940.8"/>
<path d="M1757.7 1041.2L1763.6 1032.3L1776.9 1027.9L1787.2 1029.4L1799.1 1033.8L1810.9 1023.5L1822.7 1027.9L1833 1011.7L1838.9 1010.2L1846.3 1017.6L1855.2 1017.6L1861.1 1002.8L1869.9 991L1875.8 982.2L1878.8 970.3L1887.6 970.3L1899.4 964.4L1906.8 958.5L1902.4 940.8L1914.2 942.3L1923.1 942.3L1931.9 952.6L1943.7 955.6L1958.5 961.5L1967.3 958.5L1976.2 961.5L1985.1 958.5L1996.9 952.6L2005.7 961.5L2016.1 968.9"/>
<path d="M2016.1 968.9L2016.1 982.2L2020.5 991L2032.3 1005.8L2044.1 1014.6L2051.5 1017.6L2058.9 1029.4L2070.7 1032.3L2084 1026.4L2091.4 1027.9L2106.1 1022L2117.9 1014.6L2130 1008.7"/>
<path d="M2016.1 968.9L2023.4 967.4L2029.4 958.5L2032.3 943.8L2035.3 929L2044.1 932L2047.1 920.2L2055.9 908.3L2070.7 896.5L2079.5 884.7L2084 870L2085.4 849.3L2086.9 831.6L2081 822.7"/>
<path d="M2048.5 1020.5L2032.3 1038.3L2014.6 1060.1"/>
<path d="M2072.2 737.1L2079.5 784.3L2086.9 831.6L2092.8 855.2L2097.8 872.9L2130 866.4"/>
<path d="M1430 968.9L1435.9 973.3L1437.4 1060.1"/>
<path d="M2336.7 712.9L2333.7 728.2L2327.2 741.5L2330.8 751.9L2328.4 763.7L2336.7 772.5L2348.5 781.4L2356.7 788.8L2348.5 796.1"/>
<path d="M2130 866.4L2197.9 852.2L2248.1 839.8L2307.1 825.7L2317.5 822.7L2324.9 813.9"/>
<path d="M2319 828.6L2323.4 846.3L2330.8 870L2336.7 896.5L2363.2 893.6"/>
<path d="M2146.2 864.1L2150.7 890.6L2159.5 884.7L2168.4 875.9L2180.2 865.5L2193.5 864.1L2203.8 870L2215.6 875.9L2228.9 881.8L2231.9 870L2227.4 858.1L2218.6 853.7L2203.8 870"/>
<path d="M2228.9 881.8L2248.1 878.8L2262.9 884.7L2274.7 887.7"/>
<path d="M2203.8 870L2200.9 884.7L2193.5 899.5L2180.2 914.2L2174.3 934.9L2165.4 939.3L2153.6 933.4L2147.7 952.6L2138.9 979.2L2130 1002.8"/>
<path d="M2130 1056L2218.6 1038.3L2307.1 1023.5L2350 1017"/>
<path d="M2381 657.4L2413.4 653L2454.8 640.3L2474 634.4L2479.9 642.6L2482.8 654.4"/>
<path d="M2454.8 640.3L2460.7 657.4L2468.1 676.6"/>
<path d="M399.1 1060L433 1110.2"/>
<path d="M443.3 1060L438.9 1083.6L433 1110.2L434.5 1125L438.9 1142.7L446.3 1156L434.5 1169.2L424.2 1181.1L419.7 1197.3L406.4 1210.6L402 1222.4L407.9 1232.7L410.9 1241.6L405 1249L394.6 1250.4"/>
<path d="M270.6 1228.3L325.2 1238.6L393.2 1248.4L385.8 1260.8L472.9 1316.9L565.9 1376.5L620.5 1386.2L672.2 1395.1L717.9 1402.5L720.9 1377.4L730 1375.9"/>
<path d="M730 1068.9L672.2 1395.1"/>
<path d="M786.1 1060L907.1 1076.2L1026.7 1089.5L1075.4 1092.5L1202.4 1099.9L1320.5 1104.3L1430 1105.8"/>
<path d="M1078.4 1060L1075.4 1092.5"/>
<path d="M1026.7 1089.5L1023.8 1119L1099.1 1125.5L1171.4 1130L1165.5 1247.5L1172.9 1254.9L1183.2 1260.8L1195 1262.2L1199.4 1257.8L1205.3 1263.7L1206.8 1271.1L1217.2 1274.1L1229 1278.5L1234.9 1277L1243.7 1282.9L1252.6 1280L1261.4 1280L1265.9 1290.3L1273.3 1296.2L1283.6 1290.3L1293.9 1296.2L1305.7 1299.1L1311.6 1305.1L1319 1294.7L1326.4 1297.7L1335.3 1296.2L1344.1 1302.1L1353 1308L1367.7 1299.1L1379.5 1297.7L1389.9 1294.7L1400.2 1297.7L1409.1 1293.2L1422.4 1299.1L1430 1305.1"/>
<path d="M1023.8 1119L1013.4 1207.6L1003.1 1311L994.2 1395.1L907.1 1384.8L803.8 1373.6L806.8 1384.8"/>
<path d="M730 1377.4L805.3 1387.7L814.1 1390.7L820.1 1402.5L824.5 1411.3L833.3 1418.7L842.2 1429.1L851.1 1440.9L859.9 1451.2L870.2 1458.6L880.6 1466L886.5 1476.3L890.9 1488.1L893.9 1497L895.3 1501.1"/>
<path d="M1437.4 1060L1438.9 1136.8L1446.2 1178.1L1449.2 1207.6L1448.3 1311"/>
<path d="M1430 1305.1L1438.9 1311L1448.3 1312.4L1456.6 1315.4L1469.9 1316.9L1471.3 1350.8L1472.8 1414.3L1483.1 1426.1L1489 1443.8L1496.4 1461.5L1500.9 1473.3L1499.4 1488.1L1496.4 1501.1"/>
<path d="M1438.9 1136.8L1548.1 1132.3L1657.3 1127.3L1664.7 1132.3L1658.8 1145.6L1651.4 1158.9L1683.9 1156.8"/>
<path d="M1688.3 1060L1689.8 1074.8L1694.2 1086.6L1704.6 1091L1709 1104.3L1707.5 1116.1L1697.2 1122L1689.8 1126.4L1685.4 1136.8L1683.9 1156.8L1682.4 1169.2L1675.1 1176.6L1670.6 1192.9L1667.7 1207.6L1661.8 1216.5L1660.3 1220.9L1650 1237.1L1647 1254.9L1641.1 1259.3L1630.8 1272.6L1627.8 1284.4L1619 1302.1L1617.5 1311L1621.9 1319.8L1621.9 1330.2L1624.9 1339L1621.9 1346.4L1624.9 1355.2L1624.9 1367.1L1630.8 1378.9L1636.7 1386.2L1633.7 1396.6L1627.8 1408.4L1619 1414.3L1613.1 1426.1L1607.1 1443.8L1604.2 1458.6L1601.2 1470.4"/>
<path d="M1471.3 1350.8L1548.1 1347.9L1621.9 1344.9"/>
<path d="M1601.2 1471.9L1651.4 1468.9L1703.1 1466.8L1704.6 1479.3L1700.2 1488.1L1707.5 1497L1713.4 1501.1"/>
<path d="M1704.6 1091L1710.5 1082.1L1725.2 1080.7L1740 1085.1L1740 1073.3L1744.4 1064.4L1754.8 1060"/>
<path d="M1709 1123.5L1760.7 1119L1763.6 1107.2L1843.3 1101.3L1961.4 1088L1982.1 1085.1L2075.1 1071.8L2130 1064.4"/>
<path d="M1982.1 1085.1L1996.9 1074.8L2011.6 1063L2017.5 1060"/>
<path d="M2075.1 1071.8L2076.6 1080.7L2069.2 1092.5L2058.9 1102.8L2041.2 1114.6L2032.3 1116.1L2023.4 1127.9L2014.6 1136.8L2002.8 1145.6L1985.1 1151.5L1973.3 1160.4L1961.4 1172.2L1961.4 1187"/>
<path d="M1663.2 1219.4L1769.5 1211.5L1895 1198.2L1961.4 1188.4L2020.5 1179.6L2038.2 1170.7L2055.9 1161.9L2091.4 1156L2120.9 1153.9L2130 1157.4"/>
<path d="M2020.5 1179.6L2013.1 1191.4L2014.6 1201.7L2023.4 1207.6L2038.2 1212.1L2047.1 1225.3L2057.4 1237.1L2070.7 1246L2081 1256.3L2094.3 1263.7L2103.2 1275.5L2115 1282.9L2123.8 1290.3L2130 1305.1"/>
<path d="M1769.5 1211.5L1771.9 1237.1L1771 1296.2L1769.5 1355.2L1768.1 1408.4L1772.5 1443.8L1776.9 1473.3L1779.9 1497"/>
<path d="M1895 1198.2L1902.4 1225.3L1911.3 1254.9L1920.1 1284.4L1929 1311L1936.3 1328.7L1946.7 1343.4L1952.6 1359.7L1946.7 1373L1945.2 1387.7L1951.1 1402.5L1952.6 1420.2L1955.5 1433.5L1967.3 1455.6"/>
<path d="M1831.5 1485.2L1828.6 1473.3L1821.2 1466L1822.7 1455.6L1872.9 1449.7L1931.9 1440.9L1957 1436.4"/>
<path d="M1967.3 1455.6L2020.5 1452.7L2079.5 1447.4L2112 1445.3L2117.9 1454.2L2122.4 1449.7L2123.8 1435L2120.9 1429.1L2130 1427.6"/>
<path d="M2130 1156L2138.9 1161.9L2140.3 1170.7L2159.5 1167.8L2197.9 1161.9L2261.4 1203.8"/>
<path d="M2130 1299.1L2135.9 1308L2144.8 1316.9L2150.7 1327.2L2153.6 1336.1L2162.5 1340.5"/>
<path d="M2130 1427.6L2143.3 1428.5L2147.7 1426.1"/>
<path d="M895.3 1501L893.9 1512.8L896.8 1524.6L904.2 1536.4L913.1 1545.3L923.4 1555.6L936.7 1561.5L948.5 1570.4L958.8 1577.8L967.7 1581.3L976.5 1577.8L983.9 1570.4L989.8 1564.5L992.8 1554.1L997.2 1545.3L1004.6 1537.9L1014.9 1536.4L1025.2 1532L1035.6 1537L1048.9 1539.4L1060.7 1540.9L1071 1542.3L1076.9 1551.2L1085.8 1558.6L1091.7 1566L1099.1 1574.8L1106.4 1582.2L1110.9 1591.1L1113.8 1601.4L1119.7 1613.2L1124.2 1622.1L1127.1 1633.9L1131.5 1642.7L1138.9 1651.6L1144.8 1660.4L1150.7 1670.8L1156.6 1678.1L1165.5 1684.1L1169.3 1692.9L1168.4 1704.7L1171.4 1713.6L1170.5 1722.4L1177.3 1731.3L1181.7 1740.1L1184.7 1752L1189.1 1760.8L1199.4 1763.8L1208.3 1769.7L1218.6 1775.6L1229 1778.5L1237.8 1784.4L1249.6 1787.4L1261.4 1788.9L1271.8 1791.8L1282.1 1797.7L1291 1796.2L1295.4 1791.8"/>
<path d="M1492 1501L1493.5 1512.8L1492.6 1524.6L1490.5 1536.4L1484.6 1545.3L1482.6 1555.6"/>
<path d="M1712 1501L1716.4 1512.8"/>
<path d="M1816.5 543.5L1820.3 542.7L1822.1 548.7L1819.3 555.3L1816.5 554.3L1817.5 548.7L1816.5 543.5"/>
<path d="M1941.1 520.6L1946.8 515L1959.9 512.2L1971.1 511.2L1978.6 513.1L1982.4 518.7L1981.4 526.2L1976.7 529L1971.1 533.7L1963.6 531.9L1954.3 527.2L1946.8 524.4L1941.1 520.6"/>
<path d="M1963.6 721.1L1969.3 718.3L1978.6 721.1L1984.2 724L1982.4 730.5L1976.7 734.3L1967.4 734.3L1961.8 730.5L1959.9 724.9L1963.6 721.1"/>
<path d="M2072.3 738L2076.1 753L2079.8 780"/>
<path d="M2102.3 715.5L2104.2 724.9L2113.6 728.6L2132.3 724.9L2160 719.3"/>
<path d="M1690 543L1700.7 544.1L1709.3 548.4L1716.8 555.3L1723.2 562.8L1723.2 573.6L1727.5 580L1730.7 586.4L1733.9 593.9"/>
<path d="M1816.4 543.6L1819.6 544.6L1820.1 551.1L1817.5 554.8L1816.4 550L1816.4 543.6"/>
<path d="M2101.6 715L2104.5 723.7L2113.1 729.5L2123.2 726.6L2147.8 720.8L2176.7 713.6L2205.6 706.4L2234.6 699.1L2263.5 691.9L2285.1 687.6L2295.3 686.1L2305.4 687.6L2314.1 691.9L2319.8 702L2325.6 710.7L2335.7 713.6L2338.6 714.3L2357.4 720.8L2377.7 726.6"/>
<path d="M2338.6 714.3L2334.3 723.7L2330 733.8L2327.1 742.5L2328.5 746"/>
<path d="M2350.2 535.8L2354.5 545.9L2358.9 556L2360.3 567.6L2367.5 570.5L2371.2 577.7L2373.3 587.8L2376.9 599.4L2379.1 609.5L2380.5 616.7L2380.5 631.2L2380.8 645.6L2383.4 660.1L2385.6 674.6L2389.2 689L2393.6 700.6L2395 706.4L2391.4 716.5L2389.2 722.3"/>
<path d="M2409.5 530L2406.6 544.5L2405.1 558.9L2406.6 573.4L2408 587.8L2409.5 599.4L2413.8 606.6"/>
<path d="M2380.5 616.7L2413.8 606.6L2430 603"/>
<path d="M2384.9 658.6L2412.3 654.3L2430 648.5"/>
</g>
</g>
<rect x="30.5" y="178.5" width="2790" height="1763" fill="none" stroke="#000" stroke-width="3.3" stroke-linejoin="miter"/>
<g stroke="none" shape-rendering="crispEdges">
<rect x="2994.3" y="1598.1" width="74.2" height="134.9" fill="#053061"/>
<rect x="2994.3" y="1463.7" width="74.2" height="134.9" fill="#256baf"/>
<rect x="2994.3" y="1329.3" width="74.2" height="134.9" fill="#559ec9"/>
<rect x="2994.3" y="1194.9" width="74.2" height="134.9" fill="#a7d0e4"/>
<rect x="2994.3" y="1060.5" width="74.2" height="134.9" fill="#e2edf3"/>
<rect x="2994.3" y="926" width="74.2" height="134.9" fill="#fae7dc"/>
<rect x="2994.3" y="791.6" width="74.2" height="134.9" fill="#f7b799"/>
<rect x="2994.3" y="657.2" width="74.2" height="134.9" fill="#dd6f59"/>
<rect x="2994.3" y="522.8" width="74.2" height="134.9" fill="#b6202f"/>
<rect x="2994.3" y="388.4" width="74.2" height="134.9" fill="#67001f"/>
</g>
<path d="M2994.3 388.9L3031.4 321.2L3068.5 388.9Z" fill="#67001f"/>
<path d="M2994.3 1732L3031.4 1799.7L3068.5 1732Z" fill="#053061"/>
<path d="M2994.3 1732.5L3031.4 1799.7L3068.5 1732.5L3068.5 388.4L3031.4 321.2L2994.3 388.4Z" fill="none" stroke="#000" stroke-width="3.3" stroke-linejoin="miter" stroke-miterlimit="10"/>
<g stroke="#000" stroke-width="3.3">
<line x1="3068.5" y1="1732.5" x2="3083.1" y2="1732.5"/>
<line x1="3068.5" y1="1598.1" x2="3083.1" y2="1598.1"/>
<line x1="3068.5" y1="1463.7" x2="3083.1" y2="1463.7"/>
<line x1="3068.5" y1="1329.3" x2="3083.1" y2="1329.3"/>
<line x1="3068.5" y1="1194.9" x2="3083.1" y2="1194.9"/>
<line x1="3068.5" y1="1060.5" x2="3083.1" y2="1060.5"/>
<line x1="3068.5" y1="926" x2="3083.1" y2="926"/>
<line x1="3068.5" y1="791.6" x2="3083.1" y2="791.6"/>
<line x1="3068.5" y1="657.2" x2="3083.1" y2="657.2"/>
<line x1="3068.5" y1="522.8" x2="3083.1" y2="522.8"/>
<line x1="3068.5" y1="388.4" x2="3083.1" y2="388.4"/>
</g>
<g font-size="41.67">
<text x="3097.7" y="1747.7">0.0</text>
<text x="3097.7" y="1613.3">0.1</text>
<text x="3097.7" y="1478.9">0.2</text>
<text x="3097.7" y="1344.5">0.3</text>
<text x="3097.7" y="1210.1">0.4</text>
<text x="3097.7" y="1075.7">0.5</text>
<text x="3097.7" y="941.2">0.6</text>
<text x="3097.7" y="806.8">0.7</text>
<text x="3097.7" y="672.4">0.8</text>
<text x="3097.7" y="538">0.9</text>
<text x="3097.7" y="403.6">1.0</text>
<text transform="translate(3212 1062) rotate(-90)" text-anchor="middle">Hit Rate</text>
</g>
</svg>
</body>
</html>
